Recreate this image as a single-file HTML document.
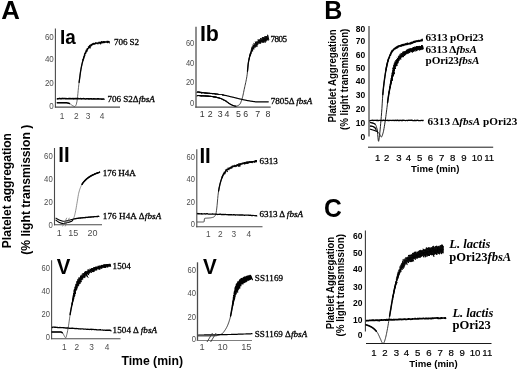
<!DOCTYPE html>
<html><head><meta charset="utf-8"><title>Figure</title>
<style>html,body{margin:0;padding:0;background:#fff;}body{width:520px;height:372px;overflow:hidden;}svg{will-change:transform;filter:grayscale(1);}svg text{font-kerning:normal;}</style></head>
<body>
<svg width="520" height="372" viewBox="0 0 520 372" style="display:block">
<rect width="520" height="372" fill="#fff"/>
<text x="1.3" y="19.4" font-family='"Liberation Sans", sans-serif' font-size="25.8" font-weight="bold" font-style="normal" fill="#000" text-anchor="start">A</text>
<text x="324.3" y="19.4" font-family='"Liberation Sans", sans-serif' font-size="25" font-weight="bold" font-style="normal" fill="#000" text-anchor="start">B</text>
<text transform="translate(324.0 216.9) scale(0.94 1)" font-family='"Liberation Sans", sans-serif' font-size="26.2" font-weight="bold">C</text>
<text transform="translate(11.4 248.2) rotate(-90)" font-family='"Liberation Sans", sans-serif' font-size="12.9" font-weight="bold" textLength="115.2" lengthAdjust="spacingAndGlyphs">Platelet aggregation</text>
<text transform="translate(30.3 254.8) rotate(-90)" font-family='"Liberation Sans", sans-serif' font-size="12.9" font-weight="bold" textLength="130" lengthAdjust="spacingAndGlyphs">(% light transmission )</text>
<text x="121.4" y="364.7" font-family='"Liberation Sans", sans-serif' font-size="12" font-weight="bold" font-style="normal" fill="#000" text-anchor="start" textLength="61.6" lengthAdjust="spacingAndGlyphs">Time (min)</text>
<line x1="55.4" y1="28.5" x2="55.4" y2="107.6" stroke="#4a4a4a" stroke-width="1.1"/>
<line x1="54.9" y1="107.1" x2="120" y2="107.1" stroke="#4a4a4a" stroke-width="1.1"/>
<text transform="translate(53.8 40.2) scale(0.88 1)" font-family='"Liberation Sans", sans-serif' font-size="9.1" fill="#4d4d4d" text-anchor="end">60</text>
<text transform="translate(53.8 62) scale(0.88 1)" font-family='"Liberation Sans", sans-serif' font-size="9.1" fill="#4d4d4d" text-anchor="end">40</text>
<text transform="translate(53.8 86.2) scale(0.88 1)" font-family='"Liberation Sans", sans-serif' font-size="9.1" fill="#4d4d4d" text-anchor="end">20</text>
<text transform="translate(53.8 108.5) scale(0.88 1)" font-family='"Liberation Sans", sans-serif' font-size="9.1" fill="#4d4d4d" text-anchor="end">0</text>
<text x="62" y="118.8" font-family='"Liberation Sans", sans-serif' font-size="8.3" font-weight="normal" font-style="normal" fill="#4d4d4d" text-anchor="middle">1</text>
<text x="76.2" y="118.8" font-family='"Liberation Sans", sans-serif' font-size="8.3" font-weight="normal" font-style="normal" fill="#4d4d4d" text-anchor="middle">2</text>
<text x="88" y="118.8" font-family='"Liberation Sans", sans-serif' font-size="8.3" font-weight="normal" font-style="normal" fill="#4d4d4d" text-anchor="middle">3</text>
<text x="102" y="118.8" font-family='"Liberation Sans", sans-serif' font-size="8.3" font-weight="normal" font-style="normal" fill="#4d4d4d" text-anchor="middle">4</text>
<text transform="translate(59.9 43.6) scale(0.93 1)" font-family='"Liberation Sans", sans-serif' font-size="20.3" font-weight="bold">Ia</text>
<path d="M57.3 102.8 L57.6 102.8 L57.9 102.8 L58.2 102.8 L58.5 102.8 L58.8 102.8 L59.1 102.8 L59.4 102.8 L59.7 102.8 L60 102.8 L60.3 102.8 L60.6 102.8 L60.9 102.8 L61.2 102.8 L61.5 102.8 L61.8 102.8 L62.1 102.8 L62.4 102.8 L62.7 102.8 L63 102.8 L63.3 102.8 L63.6 102.8 L64 102.8 L64.3 102.8 L64.6 102.8 L64.9 102.8 L65.2 102.8 L65.5 102.8 L65.8 102.8 L66.1 102.8 L66.4 102.8 L66.7 102.8 L67 102.9 L67.3 102.9 L67.6 103 L67.9 103 L68.2 103.1 L68.5 103.2 L68.8 103.3 L69.1 103.4 L69.4 103.5 L69.7 103.6 L70 103.7 L70.3 103.9 L70.6 104.2 L70.9 104.4 L71.2 104.7 L71.5 104.9 L71.8 105.1 L72.1 105.4 L72.4 105.6 L72.7 105.7 L73 105.9 L73.3 106 L73.6 106.2 L73.9 106.3 L74.2 106.4 L74.5 106.5 L74.8 106.5 L75.1 106.3 L75.4 106 L75.7 105.6 L76 105 L76.3 104.4 L76.6 103.1 L77 101.2 L77.3 98.8 L77.6 96.4 L77.9 93.6 L78.2 90.4 L78.5 87.3 L78.8 84.7 L79.1 82.4 L79.4 80.2 L79.7 78 L80 75.6 L80.3 73.4 L80.6 71.3 L80.9 69.6 L81.2 67.9 L81.5 66.4 L81.8 65 L82.1 63.7 L82.4 62.5 L82.7 61.3 L83 60.2 L83.3 59.1 L83.6 58.1 L83.9 57.1 L84.2 56.2 L84.5 55.3 L84.8 54.4 L85.1 53.7 L85.4 53 L85.7 52.3 L86 51.7 L86.3 51.2 L86.6 50.6 L86.9 50.1 L87.2 49.6 L87.5 49.1 L87.8 48.7 L88.1 48.3 L88.4 47.9 L88.7 47.6 L89 47.2 L89.3 46.9 L89.6 46.6 L90 46.3 L90.3 46 L90.6 45.8 L90.9 45.5 L91.2 45.3 L91.5 45.1 L91.8 44.8 L92.1 44.7 L92.4 44.5 L92.7 44.4 L93 44.2 L93.3 44.1 L93.6 44 L93.9 43.9 L94.2 43.8 L94.5 43.7 L94.8 43.6 L95.1 43.5 L95.4 43.5 L95.7 43.4 L96 43.3 L96.3 43.3 L96.6 43.2 L96.9 43.1 L97.2 43.1 L97.5 43 L97.8 43 L98.1 42.9 L98.4 42.9 L98.7 42.8 L99 42.8 L99.3 42.7 L99.6 42.7 L99.9 42.6 L100.2 42.6 L100.5 42.5 L100.8 42.5 L101.1 42.5 L101.4 42.4 L101.7 42.4 L102 42.4 L102.3 42.3 L102.6 42.3 L103 42.3 L103.3 42.2 L103.6 42.2 L103.9 42.2 L104.2 42.1 L104.5 42.1 L104.8 42.1 L105.1 42.1 L105.4 42 L105.7 42 L106 42 L106.3 42 L106.6 42 L106.9 41.9 L107.2 41.9 L107.5 41.9 L107.8 41.9 L108.1 41.9 L108.4 41.8 L108.7 41.8 L109 41.8 L109.3 41.8" fill="none" stroke="#444" stroke-width="0.8" stroke-linejoin="round" stroke-linecap="round"/>
<path d="M57.3 102.8 L57.6 102.8 L57.9 102.8 L58.2 102.8 L58.5 102.8 L58.8 102.8 L59.1 102.8 L59.4 102.8 L59.7 102.8 L60 102.8 L60.3 102.8 L60.6 102.8 L60.9 102.8 L61.2 102.8 L61.5 102.8 L61.8 102.8 L62.1 102.8 L62.4 102.8 L62.7 102.8 L63 102.8 L63.3 102.8 L63.6 102.8 L64 102.8 L64.3 102.8 L64.6 102.8 L64.9 102.8 L65.2 102.8 L65.5 102.8 L65.8 102.8 L66.1 102.8 L66.4 102.8 L66.7 102.8 L67 102.9 L67.3 102.9 L67.6 103 L67.9 103 L68.2 103.1 L68.5 103.2 L68.8 103.3 L69.1 103.4 L69.4 103.5" fill="none" stroke="#000" stroke-width="1.5" stroke-linejoin="round" stroke-linecap="round"/>
<path d="M79.1 82.4 L79.4 80.2 L79.7 78 L80 75.6 L80.3 73.4 L80.6 71.3 L80.9 69.6 L81.2 67.9 L81.5 66.4 L81.8 65 L82.1 63.7 L82.4 62.5 L82.7 61.3 L83 60.2 L83.3 59.1 L83.6 58.1 L83.9 57.1" fill="none" stroke="#000" stroke-width="1.3" stroke-linejoin="round" stroke-linecap="round"/>
<path d="M83.1 60.1 L82.7 59.6 L83.5 59.4 L83.2 58.9 L84 58.7 L83.3 58 L84.1 57.8 L83.3 57.2 L84.2 57 L83.8 56.5 L84.7 56.3 L84.1 55.7 L85.2 55.7 L84 54.8 L85 54.8 L84.3 54.1 L85.3 54 L84.5 53.2 L86.1 53.5 L85.3 52.7 L86.3 52.7 L85.3 51.8 L86.4 51.8 L85.6 51 L87.3 51.4 L85.8 50.1 L87.4 50.6 L86.7 49.7 L88 50 L86.7 48.7 L88 49.1 L87.6 48.2 L88.6 48.5 L88.1 47.6 L89.1 48 L88.2 46.5 L90.5 48.2 L89 46.1 L90.4 47 L89.3 45.2 L90.9 46.3 L90.5 45.2 L91.6 46 L90.7 44.2 L92.1 45.4 L91.7 44 L92.7 45 L92.4 43.3 L93.3 44.5 L93.3 43.1 L94.2 44.5 L94.1 43 L95 44.5 L95.1 43.2 L95.7 44 L95.7 42.3 L96.4 43.5 L96.7 42.9 L97.3 43.8 L97.5 42.7 L98.2 44.1 L98.3 42.6 L98.8 43 L99 41.8 L99.7 43.5 L99.9 42.2 L100.6 44.3 L100.7 41.7 L101.3 43.5 L101.4 41.2 L102.1 43.4 L102.4 42 L102.8 42.8 L103.1 41.1 L103.7 43.1 L103.9 41.2 L104.5 43 L104.8 41.3 L105.3 42.5 L105.6 41.7 L106.1 42.3 L106.4 41.4 L106.9 42.5 L107.2 40.9 L107.7 43 L108 41 L108.5 42.4 L108.9 41.2 L109.3 42.8" fill="none" stroke="#000" stroke-width="1.2" stroke-linejoin="bevel" stroke-linecap="round"/>
<path d="M57.3 99 L57.8 98.4 L58.3 99 L58.8 98.4 L59.3 98.7 L59.8 98.2 L60.3 99 L60.9 98.4 L61.4 99 L61.9 98.3 L62.4 98.7 L62.9 98.4 L63.4 98.9 L63.9 98.2 L64.4 98.8 L64.9 98.2 L65.4 99 L65.9 98.4 L66.4 98.9 L66.9 98.5 L67.5 98.9 L68 98.6 L68.5 98.9 L69 98.3 L69.5 98.9 L70 98.3 L70.5 98.9 L71 98.5 L71.5 98.8 L72 98.6 L72.5 99 L73 98.2 L73.5 99.1 L74.1 98.5 L74.6 98.9 L75.1 98.2 L75.6 98.9 L76.1 98.5 L76.6 98.8 L77.1 98.5 L77.6 98.9 L78.1 98.3 L78.6 98.9 L79.1 98.3 L79.6 99.1 L80.1 98.4 L80.7 98.9 L81.2 98.6 L81.7 99.2 L82.2 98.4 L82.7 99.1 L83.2 98.3 L83.7 98.9 L84.2 98.5 L84.7 99 L85.2 98.7 L85.7 99.4 L86.2 98.7 L86.7 98.9 L87.3 98.5 L87.8 99 L88.3 98.7 L88.8 99.1 L89.3 98.6 L89.8 99.3 L90.3 98.4 L90.8 99.2 L91.3 98.4 L91.8 99.3 L92.3 98.7 L92.8 99.2 L93.3 98.6 L93.8 99 L94.4 98.8 L94.9 99.2 L95.4 98.5 L95.9 99.4 L96.4 98.6 L96.9 99.1 L97.4 98.5 L97.9 99.3 L98.4 98.7 L98.9 99.1 L99.4 98.9 L99.9 99.1 L100.5 98.9 L101 99.2 L101.5 98.8 L102 99.5 L102.5 98.9 L103 99.2 L103.5 98.8 L104 99.3" fill="none" stroke="#000" stroke-width="1.5" stroke-linejoin="bevel" stroke-linecap="round"/>
<text x="114" y="44.6" font-family='"Liberation Serif", serif' font-size="9.1" font-weight="normal" font-style="normal" fill="#000" text-anchor="start" stroke="#000" stroke-width="0.3" textLength="25.1" lengthAdjust="spacing">706 S2</text>
<text x="107.5" y="102" font-family='"Liberation Serif", serif' font-size="9.1" font-weight="normal" font-style="normal" fill="#000" text-anchor="start" stroke="#000" stroke-width="0.3" textLength="47.3" lengthAdjust="spacing">706 S2&#916;<tspan font-style="italic">fbsA</tspan></text>
<line x1="196" y1="26.7" x2="196" y2="107.6" stroke="#6a6a6a" stroke-width="1.5"/>
<line x1="195.2" y1="107.1" x2="270.7" y2="107.1" stroke="#505050" stroke-width="1.2"/>
<text transform="translate(194.2 46) scale(0.88 1)" font-family='"Liberation Sans", sans-serif' font-size="8.5" fill="#4d4d4d" text-anchor="end">60</text>
<text transform="translate(194.2 65.7) scale(0.88 1)" font-family='"Liberation Sans", sans-serif' font-size="8.5" fill="#4d4d4d" text-anchor="end">40</text>
<text transform="translate(194.2 85.3) scale(0.88 1)" font-family='"Liberation Sans", sans-serif' font-size="8.5" fill="#4d4d4d" text-anchor="end">20</text>
<text transform="translate(194.2 105.6) scale(0.88 1)" font-family='"Liberation Sans", sans-serif' font-size="8.5" fill="#4d4d4d" text-anchor="end">0</text>
<text x="202.2" y="116.9" font-family='"Liberation Sans", sans-serif' font-size="8.8" font-weight="normal" font-style="normal" fill="#333" text-anchor="middle">1</text>
<text x="210.2" y="116.9" font-family='"Liberation Sans", sans-serif' font-size="8.8" font-weight="normal" font-style="normal" fill="#333" text-anchor="middle">2</text>
<text x="220.3" y="116.9" font-family='"Liberation Sans", sans-serif' font-size="8.8" font-weight="normal" font-style="normal" fill="#333" text-anchor="middle">3</text>
<text x="227" y="116.9" font-family='"Liberation Sans", sans-serif' font-size="8.8" font-weight="normal" font-style="normal" fill="#333" text-anchor="middle">4</text>
<text x="238.5" y="116.9" font-family='"Liberation Sans", sans-serif' font-size="8.8" font-weight="normal" font-style="normal" fill="#333" text-anchor="middle">5</text>
<text x="245.6" y="116.9" font-family='"Liberation Sans", sans-serif' font-size="8.8" font-weight="normal" font-style="normal" fill="#333" text-anchor="middle">6</text>
<text x="257.6" y="116.9" font-family='"Liberation Sans", sans-serif' font-size="8.8" font-weight="normal" font-style="normal" fill="#333" text-anchor="middle">7</text>
<text x="268" y="116.9" font-family='"Liberation Sans", sans-serif' font-size="8.8" font-weight="normal" font-style="normal" fill="#333" text-anchor="middle">8</text>
<text transform="translate(199.9 40.8) scale(0.96 1)" font-family='"Liberation Sans", sans-serif' font-size="22.3" font-weight="bold">Ib</text>
<path d="M197.2 95.6 L197.5 95.6 L197.8 95.6 L198.1 95.6 L198.4 95.6 L198.7 95.7 L199 95.7 L199.3 95.7 L199.6 95.7 L199.9 95.7 L200.2 95.7 L200.5 95.7 L200.8 95.8 L201.1 95.8 L201.4 95.8 L201.7 95.8 L202 95.8 L202.3 95.8 L202.6 95.9 L202.9 95.9 L203.2 95.9 L203.5 95.9 L203.8 95.9 L204.1 95.9 L204.4 96 L204.7 96 L205 96 L205.3 96 L205.6 96 L205.9 96.1 L206.2 96.1 L206.5 96.1 L206.8 96.1 L207.1 96.1 L207.4 96.2 L207.7 96.2 L208 96.2 L208.3 96.2 L208.6 96.3 L208.9 96.3 L209.3 96.3 L209.6 96.3 L209.9 96.4 L210.2 96.4 L210.5 96.4 L210.8 96.4 L211.1 96.5 L211.4 96.5 L211.7 96.5 L212 96.6 L212.3 96.6 L212.6 96.6 L212.9 96.7 L213.2 96.7 L213.5 96.8 L213.8 96.8 L214.1 96.9 L214.4 96.9 L214.7 97 L215 97 L215.3 97.1 L215.6 97.1 L215.9 97.2 L216.2 97.3 L216.5 97.3 L216.8 97.4 L217.1 97.5 L217.4 97.6 L217.7 97.6 L218 97.7 L218.3 97.8 L218.6 97.9 L218.9 98 L219.2 98.1 L219.5 98.1 L219.8 98.2 L220.1 98.3 L220.4 98.4 L220.7 98.5 L221 98.7 L221.3 98.8 L221.6 98.9 L221.9 99 L222.2 99.2 L222.5 99.3 L222.8 99.5 L223.1 99.6 L223.4 99.8 L223.7 99.9 L224 100.1 L224.3 100.2 L224.6 100.4 L224.9 100.6 L225.2 100.7 L225.5 100.9 L225.8 101.1 L226.1 101.3 L226.4 101.5 L226.7 101.7 L227 101.9 L227.3 102.1 L227.6 102.3 L227.9 102.6 L228.2 102.8 L228.5 103 L228.8 103.2 L229.1 103.4 L229.4 103.6 L229.7 103.8 L230 104 L230.3 104.2 L230.6 104.4 L230.9 104.5 L231.2 104.7 L231.5 104.8 L231.8 104.9 L232.1 105.1 L232.4 105.2 L232.7 105.4 L233.1 105.5 L233.4 105.6 L233.7 105.7 L234 105.8 L234.3 105.9 L234.6 106 L234.9 106.1 L235.2 106.2 L235.5 106.2 L235.8 106.2 L236.1 106.2 L236.4 106.2 L236.7 106.1 L237 106 L237.3 105.9 L237.6 105.8 L237.9 105.6 L238.2 105.5 L238.5 105.3 L238.8 105.1 L239.1 104.9 L239.4 104.7 L239.7 104.4 L240 104 L240.3 103.5 L240.6 102.9 L240.9 102.2 L241.2 101.4 L241.5 100.5 L241.8 99.6 L242.1 98.7 L242.4 97.7 L242.7 96.5 L243 95.2 L243.3 93.8 L243.6 92.4 L243.9 90.9 L244.2 89.4 L244.5 88 L244.8 86.6 L245.1 85.3 L245.4 84 L245.7 82.6 L246 81.2 L246.3 79.7 L246.6 78.1 L246.9 76.3 L247.2 74.2 L247.5 71.3 L247.8 68 L248.1 64.8 L248.4 62.5 L248.7 60.8 L249 59.4 L249.3 58 L249.6 56.9 L249.9 55.8 L250.2 54.8 L250.5 53.9 L250.8 53.1 L251.1 52.3 L251.4 51.5 L251.7 50.7 L252 50 L252.3 49.4 L252.6 48.7 L252.9 48.2 L253.2 47.6 L253.5 47.2 L253.8 46.7 L254.1 46.4 L254.4 46 L254.7 45.7 L255 45.3 L255.3 45 L255.6 44.7 L255.9 44.5 L256.2 44.2 L256.5 44 L256.9 43.7 L257.2 43.5 L257.5 43.3 L257.8 43 L258.1 42.8 L258.4 42.6 L258.7 42.4 L259 42.2 L259.3 42 L259.6 41.7 L259.9 41.5 L260.2 41.4 L260.5 41.2 L260.8 41 L261.1 40.8 L261.4 40.6 L261.7 40.5 L262 40.3 L262.3 40.2 L262.6 40 L262.9 39.9 L263.2 39.8 L263.5 39.7 L263.8 39.6 L264.1 39.5 L264.4 39.4 L264.7 39.3 L265 39.2 L265.3 39.2 L265.6 39.1 L265.9 39 L266.2 38.9 L266.5 38.9 L266.8 38.8 L267.1 38.7 L267.4 38.7 L267.7 38.6 L268 38.6 L268.3 38.5 L268.6 38.5" fill="none" stroke="#222" stroke-width="0.9" stroke-linejoin="round" stroke-linecap="round"/>
<path d="M197.2 96.1 L197.5 95.1 L197.8 96 L198.1 95.1 L198.4 96 L198.7 95.1 L199 96 L199.4 95.1 L199.6 96.1 L200 95.2 L200.2 96.2 L200.6 95.1 L200.8 96.3 L201.2 95.2 L201.4 96.4 L201.8 95.3 L202.1 96.4 L202.4 95.4 L202.7 96.2 L203 95.3 L203.3 96.4 L203.6 95.4 L203.9 96.2 L204.3 95.5 L204.5 96.3 L204.9 95.4 L205.1 96.5 L205.5 95.5 L205.7 96.4 L206.1 95.6 L206.3 96.5 L206.7 95.5 L206.9 96.7 L207.3 95.6 L207.6 96.6 L207.9 95.6 L208.2 96.8 L208.5 95.7 L208.8 96.8 L209.2 95.8 L209.4 96.7 L209.8 95.8 L210 96.9 L210.4 95.9 L210.6 96.9 L211 95.9 L211.2 96.8 L211.6 96 L211.8 97 L212.2 96.1 L212.4 97 L212.8 96.1 L213 97.2 L213.4 96.2 L213.6 97.3 L214 96.4 L214.2 97.4 L214.7 96.4 L214.8 97.5 L215.3 96.5 L215.4 97.6 L215.9 96.7 L216 97.5 L216.5 96.8 L216.6 97.7 L217.1 97 L217.2 97.9 L217.7 97.1 L217.7 98.1 L218.3 97.3 L218.3 98.3 L218.9 97.5 L219 98.3 L219.5 97.7 L219.5 98.5 L220 97.9 L220.1 98.8 L220.6 98.1 L220.6 98.9 L221.2 98.3 L221.2 99.1 L221.8 98.6 L221.8 99.2 L222.3 98.9 L222.3 99.6 L222.9 99.1 L222.9 99.8 L223.5 99.4 L223.4 100.2 L224 99.7 L223.9 100.4 L224.5 100 L224.5 100.6 L225.1 100.3 L225.1 100.9 L225.6 100.6 L225.6 101.2 L226.1 101" fill="none" stroke="#000" stroke-width="1" stroke-linejoin="bevel" stroke-linecap="round"/>
<path d="M226.1 101.3 L226.4 101.5 L226.7 101.7 L227 101.9 L227.3 102.1 L227.6 102.3 L227.9 102.6 L228.2 102.8 L228.5 103 L228.8 103.2 L229.1 103.4 L229.4 103.6 L229.7 103.8 L230 104 L230.3 104.2 L230.6 104.4 L230.9 104.5 L231.2 104.7 L231.5 104.8 L231.8 104.9 L232.1 105.1 L232.4 105.2 L232.7 105.4 L233.1 105.5 L233.4 105.6 L233.7 105.7 L234 105.8 L234.3 105.9 L234.6 106 L234.9 106.1 L235.2 106.2 L235.5 106.2 L235.8 106.2" fill="none" stroke="#000" stroke-width="1.2" stroke-linejoin="round" stroke-linecap="round"/>
<path d="M247.5 71.3 L247.8 68 L248.1 64.8 L248.4 62.5 L248.7 60.8 L249 59.4 L249.3 58 L249.6 56.9 L249.9 55.8 L250.2 54.8 L250.5 53.9 L250.8 53.1" fill="none" stroke="#000" stroke-width="1.3" stroke-linejoin="round" stroke-linecap="round"/>
<path d="M249.1 59.3 L248.9 58.8 L249.5 58.5 L249 57.9 L249.8 57.7 L249.1 57.1 L249.9 56.8 L249.3 56.2 L250.1 56 L249.6 55.4 L250.6 55.3 L249.7 54.6 L250.7 54.4 L249.8 53.7 L251.3 53.7 L250.2 52.9 L251.3 52.8 L250.3 52 L251.8 52.1 L250.8 51.3 L252.3 51.4 L250.8 50.3 L253.1 50.8 L251.2 49.5 L252.8 49.8 L251.2 48.5 L253.5 49.2 L251.5 47.7 L254.3 48.8 L251.9 46.8 L254.3 47.8 L252.6 46.1 L255.2 47.5 L252.6 44.9 L255.8 47 L253.7 44.6 L256.5 46.6 L253.7 43.3 L257.3 46.4 L255 43.2 L257.4 45.3 L255.1 41.9 L258 44.9 L256 41.6 L258.4 44 L256.9 41.3 L258.9 43.3 L257.7 40.8 L260.4 44 L258 39.7 L260.8 43.1 L258.9 39.4 L261.3 42.4 L259.9 39.2 L262.3 42.5 L260.4 38.2 L263.1 42.6 L261.6 38.3 L263.9 42.6 L262.3 37.2 L264.2 41.6 L263.3 37.2 L265.3 42.5 L264.3 37.3 L265.9 41.6 L264.9 36.1 L266.5 40.7 L265.9 36 L267.2 40.1 L266.8 36.1 L268.1 40.5 L267.6 34.8 L268.8 39.7" fill="none" stroke="#000" stroke-width="0.9" stroke-linejoin="bevel" stroke-linecap="round"/>
<path d="M197.1 92.5 L197.6 91.5 L197.7 92.6 L198.2 91.5 L198.4 92.5 L198.8 91.6 L199 92.7 L199.4 91.7 L199.6 92.9 L200 91.8 L200.2 93.1 L200.6 91.9 L200.8 92.9 L201.2 91.9 L201.4 93.2 L201.8 92 L201.9 93.6 L202.4 92.1 L202.6 93 L203 92.2 L203.2 93.2 L203.6 92.3 L203.8 93.2 L204.3 92.3 L204.4 93.5 L204.9 92.4 L205.1 93.4 L205.5 92.5 L205.7 93.7 L206.1 92.5 L206.3 93.6 L206.7 92.6 L206.9 93.8 L207.3 92.7 L207.5 93.8 L207.9 92.7 L208.1 93.8 L208.5 92.8 L208.7 93.6 L209.1 92.8 L209.3 93.8 L209.7 92.8 L209.9 94 L210.3 93 L210.6 94 L211 92.9 L211.2 93.9 L211.6 93.1 L211.8 94 L212.2 93.1 L212.4 94.2 L212.8 93.1 L213 94.1 L213.4 93.2 L213.6 94.1 L214 93.3 L214.2 94.3 L214.6 93.3 L214.8 94.2 L215.2 93.4 L215.4 94.5 L215.8 93.5 L216 94.6 L216.4 93.6 L216.7 94.4 L217.1 93.7 L217.2 94.6 L217.7 93.7 L217.9 94.6 L218.3 93.9 L218.5 94.7 L218.9 94 L219.1 94.7 L219.5 94.1 L219.7 94.7 L220.1 94.2 L220.3 94.7 L220.7 94.3 L220.9 94.8 L221.3 94.4 L221.5 95 L221.9 94.5 L222.1 95 L222.5 94.7 L222.7 95.3 L223.1 94.7 L223.3 95.2 L223.7 94.9 L223.9 95.2" fill="none" stroke="#000" stroke-width="1" stroke-linejoin="bevel" stroke-linecap="round"/>
<path d="M222.2 94.8 L222.5 94.9 L222.8 94.9 L223.1 95 L223.4 95 L223.7 95.1 L224 95.2 L224.3 95.2 L224.6 95.3 L224.9 95.3 L225.2 95.4 L225.5 95.5 L225.8 95.5 L226.1 95.6 L226.4 95.7 L226.7 95.7 L227 95.8 L227.3 95.9 L227.6 96 L227.9 96 L228.2 96.1 L228.5 96.2 L228.8 96.2 L229.1 96.3 L229.4 96.4 L229.7 96.5 L230 96.5 L230.3 96.6 L230.6 96.7 L230.9 96.8 L231.2 96.8 L231.5 96.9 L231.8 97 L232.1 97 L232.4 97.1 L232.8 97.2 L233.1 97.2 L233.4 97.3 L233.7 97.4 L234 97.5 L234.3 97.5 L234.6 97.6 L234.9 97.7 L235.2 97.8 L235.5 97.8 L235.8 97.9 L236.1 98 L236.4 98.1 L236.7 98.2 L237 98.2 L237.3 98.3 L237.6 98.4 L237.9 98.5 L238.2 98.5 L238.5 98.6 L238.8 98.7 L239.1 98.8 L239.4 98.8 L239.7 98.9 L240 99 L240.3 99 L240.6 99.1 L240.9 99.2 L241.2 99.2 L241.5 99.3 L241.8 99.4 L242.1 99.4 L242.4 99.5 L242.7 99.6 L243 99.6 L243.3 99.7 L243.6 99.8 L243.9 99.8 L244.2 99.9 L244.5 100 L244.8 100 L245.1 100.1 L245.4 100.2 L245.7 100.2 L246 100.3 L246.3 100.4 L246.6 100.4 L246.9 100.5 L247.2 100.5 L247.5 100.6 L247.8 100.6 L248.1 100.7 L248.4 100.7 L248.7 100.8 L249 100.8 L249.3 100.9 L249.6 100.9 L249.9 101 L250.2 101 L250.5 101.1 L250.8 101.1 L251.1 101.2 L251.4 101.2 L251.7 101.3 L252 101.3 L252.3 101.4 L252.6 101.4 L252.9 101.4 L253.2 101.5 L253.5 101.5 L253.8 101.6 L254.1 101.6 L254.4 101.7 L254.7 101.7 L255 101.7 L255.3 101.8 L255.6 101.8 L255.9 101.8 L256.2 101.8 L256.6 101.9 L256.9 101.9 L257.2 101.9 L257.5 101.9 L257.8 101.9 L258.1 101.9 L258.4 101.9 L258.7 101.9 L259 101.9 L259.3 101.9 L259.6 101.9 L259.9 101.9 L260.2 101.9 L260.5 101.9 L260.8 101.9 L261.1 101.9 L261.4 101.9 L261.7 101.9 L262 101.9 L262.3 101.9 L262.6 101.9 L262.9 101.9 L263.2 101.9 L263.5 101.9 L263.8 101.9 L264.1 101.9 L264.4 101.9 L264.7 101.9 L265 101.9 L265.3 101.9 L265.6 101.9 L265.9 101.9 L266.2 101.8 L266.5 101.8 L266.8 101.8 L267.1 101.8 L267.4 101.8 L267.7 101.8 L268 101.8 L268.3 101.8" fill="none" stroke="#000" stroke-width="1.2" stroke-linejoin="round" stroke-linecap="round"/>
<text x="270.5" y="41.8" font-family='"Liberation Serif", serif' font-size="9.1" font-weight="normal" font-style="normal" fill="#000" text-anchor="start" stroke="#000" stroke-width="0.3" textLength="16.6" lengthAdjust="spacing">7805</text>
<text x="270.7" y="103.9" font-family='"Liberation Serif", serif' font-size="9.1" font-weight="normal" font-style="normal" fill="#000" text-anchor="start" stroke="#000" stroke-width="0.3" textLength="41.6" lengthAdjust="spacing">7805&#916; <tspan font-style="italic">fbsA</tspan></text>
<line x1="54.5" y1="148" x2="54.5" y2="225.3" stroke="#4a4a4a" stroke-width="1.1"/>
<line x1="54" y1="224.8" x2="102" y2="224.8" stroke="#4a4a4a" stroke-width="1.1"/>
<text transform="translate(52.7 159.4) scale(0.88 1)" font-family='"Liberation Sans", sans-serif' font-size="8.8" fill="#4d4d4d" text-anchor="end">60</text>
<text transform="translate(52.7 182.1) scale(0.88 1)" font-family='"Liberation Sans", sans-serif' font-size="8.8" fill="#4d4d4d" text-anchor="end">40</text>
<text transform="translate(52.7 205.3) scale(0.88 1)" font-family='"Liberation Sans", sans-serif' font-size="8.8" fill="#4d4d4d" text-anchor="end">20</text>
<text transform="translate(52.7 227.7) scale(0.88 1)" font-family='"Liberation Sans", sans-serif' font-size="8.8" fill="#4d4d4d" text-anchor="end">0</text>
<text x="59.2" y="236" font-family='"Liberation Sans", sans-serif' font-size="9.0" font-weight="normal" font-style="normal" fill="#4d4d4d" text-anchor="middle">1</text>
<text x="73.3" y="236" font-family='"Liberation Sans", sans-serif' font-size="9.0" font-weight="normal" font-style="normal" fill="#4d4d4d" text-anchor="middle">15</text>
<text x="92.4" y="236" font-family='"Liberation Sans", sans-serif' font-size="9.0" font-weight="normal" font-style="normal" fill="#4d4d4d" text-anchor="middle">20</text>
<text transform="translate(58.3 162.2) scale(0.96 1)" font-family='"Liberation Sans", sans-serif' font-size="21.2" font-weight="bold">II</text>
<path d="M56 220.2 L56.3 220.4 L56.6 220.7 L56.9 220.9 L57.2 221.1 L57.5 221.4 L57.8 221.6 L58.1 221.8 L58.4 221.9 L58.7 222.1 L59 222.3 L59.3 222.4 L59.6 222.5 L59.9 222.7 L60.2 222.8 L60.5 222.9 L60.8 223 L61.1 223.1 L61.5 223.2 L61.8 223.3 L62.1 223.4 L62.4 223.4 L62.7 223.5 L63 223.5 L63.3 223.5 L63.6 223.5 L63.9 223.5 L64.2 223.4 L64.5 223.4 L64.8 223.3 L65.1 223.2 L65.4 223.1 L65.7 223 L66 223 L66.3 222.9 L66.6 222.8 L66.9 222.7 L67.2 222.6 L67.5 222.5 L67.8 222.5 L68.1 222.4 L68.4 222.3 L68.7 222.2 L69 222.2 L69.3 222.1 L69.6 222 L69.9 221.9 L70.2 221.8 L70.5 221.7 L70.8 221.6 L71.1 221.5 L71.4 221.4 L71.7 221.2 L72 221 L72.3 220.7 L72.7 220.2 L73 219.7 L73.3 219 L73.6 218.3 L73.9 217.6 L74.2 216.8 L74.5 215.8 L74.8 214.6 L75.1 213.4 L75.4 212.1 L75.7 210.6 L76 209 L76.3 207.2 L76.6 205.4 L76.9 203.6 L77.2 201.9 L77.5 200.1 L77.8 198.2 L78.1 196.4 L78.4 194.7 L78.7 193.2 L79 192 L79.3 190.9 L79.6 189.9 L79.9 189 L80.2 188.2 L80.5 187.4 L80.8 186.7 L81.1 186 L81.4 185.4 L81.7 184.9 L82 184.4 L82.3 183.9 L82.6 183.4 L82.9 183 L83.2 182.5 L83.6 182.2 L83.9 181.8 L84.2 181.4 L84.5 181.1 L84.8 180.7 L85.1 180.4 L85.4 180.1 L85.7 179.8 L86 179.6 L86.3 179.3 L86.6 179 L86.9 178.8 L87.2 178.5 L87.5 178.3 L87.8 178.1 L88.1 177.8 L88.4 177.6 L88.7 177.4 L89 177.2 L89.3 177 L89.6 176.8 L89.9 176.6 L90.2 176.4 L90.5 176.2 L90.8 176.1 L91.1 175.9 L91.4 175.7 L91.7 175.5 L92 175.4 L92.3 175.2 L92.6 175.1 L92.9 174.9 L93.2 174.8 L93.5 174.6 L93.8 174.5 L94.2 174.3 L94.5 174.2 L94.8 174.1 L95.1 173.9 L95.4 173.8 L95.7 173.7 L96 173.6 L96.3 173.4 L96.6 173.3 L96.9 173.2 L97.2 173.1 L97.5 173 L97.8 172.9 L98.1 172.8 L98.4 172.7 L98.7 172.6 L99 172.5 L99.3 172.4 L99.6 172.3" fill="none" stroke="#777" stroke-width="0.8" stroke-linejoin="round" stroke-linecap="round"/>
<path d="M56 220.2 L56.3 220.4 L56.6 220.7 L56.9 220.9 L57.2 221.1 L57.5 221.4 L57.8 221.6 L58.1 221.8 L58.4 221.9 L58.7 222.1 L59 222.3 L59.3 222.4 L59.6 222.5 L59.9 222.7 L60.2 222.8 L60.5 222.9 L60.8 223 L61.1 223.1 L61.5 223.2 L61.8 223.3 L62.1 223.4 L62.4 223.4 L62.7 223.5 L63 223.5 L63.3 223.5 L63.6 223.5 L63.9 223.5 L64.2 223.4 L64.5 223.4 L64.8 223.3 L65.1 223.2 L65.4 223.1 L65.7 223 L66 223 L66.3 222.9 L66.6 222.8 L66.9 222.7 L67.2 222.6 L67.5 222.5 L67.8 222.5 L68.1 222.4 L68.4 222.3 L68.7 222.2 L69 222.2 L69.3 222.1 L69.6 222 L69.9 221.9 L70.2 221.8 L70.5 221.7 L70.8 221.6 L71.1 221.5 L71.4 221.4 L71.7 221.2 L72 221 L72.3 220.7 L72.7 220.2 L73 219.7" fill="none" stroke="#000" stroke-width="1.1" stroke-linejoin="round" stroke-linecap="round"/>
<path d="M82 184.4 L82.3 183.9 L82.6 183.4 L82.9 183 L83.2 182.5 L83.6 182.2 L83.9 181.8 L84.2 181.4 L84.5 181.1 L84.8 180.7 L85.1 180.4 L85.4 180.1 L85.7 179.8 L86 179.6 L86.3 179.3 L86.6 179 L86.9 178.8 L87.2 178.5 L87.5 178.3 L87.8 178.1 L88.1 177.8 L88.4 177.6 L88.7 177.4 L89 177.2 L89.3 177 L89.6 176.8 L89.9 176.6 L90.2 176.4 L90.5 176.2 L90.8 176.1 L91.1 175.9 L91.4 175.7 L91.7 175.5 L92 175.4 L92.3 175.2 L92.6 175.1 L92.9 174.9 L93.2 174.8 L93.5 174.6 L93.8 174.5 L94.2 174.3 L94.5 174.2 L94.8 174.1 L95.1 173.9 L95.4 173.8 L95.7 173.7 L96 173.6 L96.3 173.4 L96.6 173.3 L96.9 173.2 L97.2 173.1 L97.5 173 L97.8 172.9 L98.1 172.8 L98.4 172.7 L98.7 172.6 L99 172.5 L99.3 172.4 L99.6 172.3" fill="none" stroke="#000" stroke-width="1.4" stroke-linejoin="round" stroke-linecap="round"/>
<path d="M82.2 184.5 L81.9 184 L82.5 184 L82.2 183.5 L82.9 183.5 L82.6 183 L83.2 183 L83 182.4 L83.6 182.5 L83.3 181.9 L83.9 182 L83.7 181.4 L84.3 181.5 L84.1 181 L84.8 181.2 L84.6 180.5 L85.2 180.7 L85 180.1 L85.6 180.3 L85.4 179.6 L86.1 179.9 L85.9 179.2 L86.5 179.4 L86.4 178.8 L86.9 179 L86.8 178.4 L87.4 178.7 L87.3 178 L87.9 178.2 L87.8 177.6 L88.4 177.9 L88.3 177.2 L88.9 177.6 L88.8 176.9 L89.5 177.3 L89.3 176.5 L89.9 176.8 L89.9 176.2 L90.5 176.6 L90.4 175.9 L91 176.3 L90.9 175.6 L91.6 176 L91.5 175.2 L92.1 175.7 L92 175 L92.6 175.4 L92.6 174.7 L93.2 175.1 L93.1 174.4 L93.7 174.9 L93.7 174.1 L94.2 174.6 L94.2 173.9 L94.8 174.4 L94.8 173.6 L95.4 174.2 L95.4 173.3 L95.9 173.9 L96 173.1 L96.5 173.7 L96.5 172.9 L97.1 173.6 L97.1 172.6 L97.7 173.4 L97.7 172.4 L98.2 173.1 L98.3 172.2 L98.9 173 L98.9 172.1 L99.4 172.7 L99.5 171.8" fill="none" stroke="#000" stroke-width="0.9" stroke-linejoin="bevel" stroke-linecap="round"/>
<path d="M56 218.2 L56.3 218.4 L56.6 218.6 L56.9 218.8 L57.2 219 L57.5 219.1 L57.8 219.3 L58.1 219.5 L58.4 219.6 L58.7 219.8 L59 219.9 L59.3 220 L59.6 220.1 L59.9 220.3 L60.2 220.4 L60.6 220.5 L60.9 220.6 L61.2 220.7 L61.5 220.8 L61.8 220.9 L62.1 221 L62.4 221.1 L62.7 221.2 L63 221.2 L63.3 221.3 L63.6 221.3 L63.9 221.3 L64.2 221.3 L64.5 221.3 L64.8 221.2 L65.1 221.2 L65.4 221.1 L65.7 221.1 L66 221 L66.3 220.9 L66.6 220.9 L66.9 220.8 L67.2 220.7 L67.5 220.6 L67.8 220.5 L68.1 220.5 L68.4 220.4 L68.7 220.3 L69.1 220.2 L69.4 220.2 L69.7 220.1 L70 220 L70.3 219.9 L70.6 219.8 L70.9 219.8 L71.2 219.7 L71.5 219.6 L71.8 219.5 L72.1 219.4 L72.4 219.3 L72.7 219.2 L73 219.2 L73.3 219.1 L73.6 219 L73.9 218.9 L74.2 218.9 L74.5 218.8 L74.8 218.8 L75.1 218.7 L75.4 218.7 L75.7 218.6" fill="none" stroke="#000" stroke-width="1.1" stroke-linejoin="round" stroke-linecap="round"/>
<path d="M75.1 218.7 L75.4 218.7 L75.7 218.6 L76 218.6 L76.3 218.5 L76.6 218.5 L76.9 218.4 L77.2 218.4 L77.6 218.4 L77.9 218.3 L78.2 218.3 L78.5 218.2 L78.8 218.2 L79.1 218.2 L79.4 218.1 L79.7 218.1 L80 218.1 L80.3 218 L80.6 218 L80.9 218 L81.2 217.9 L81.5 217.9 L81.8 217.9 L82.1 217.8 L82.4 217.8 L82.7 217.8 L83 217.7 L83.3 217.7 L83.6 217.7 L83.9 217.6 L84.2 217.6 L84.5 217.6 L84.8 217.6 L85.1 217.5 L85.4 217.5 L85.7 217.5 L86.1 217.4 L86.4 217.4 L86.7 217.4 L87 217.3 L87.3 217.3 L87.6 217.3 L87.9 217.3 L88.2 217.2 L88.5 217.2 L88.8 217.2 L89.1 217.2 L89.4 217.1 L89.7 217.1 L90 217.1 L90.3 217 L90.6 217 L90.9 217 L91.2 217 L91.5 216.9 L91.8 216.9 L92.1 216.9 L92.4 216.9 L92.7 216.8 L93 216.8 L93.3 216.8 L93.6 216.8 L93.9 216.7 L94.2 216.7 L94.6 216.7 L94.9 216.7 L95.2 216.6 L95.5 216.6 L95.8 216.6 L96.1 216.6 L96.4 216.6 L96.7 216.5 L97 216.5 L97.3 216.5 L97.6 216.5 L97.9 216.5 L98.2 216.4 L98.5 216.4 L98.8 216.4" fill="none" stroke="#000" stroke-width="1.3" stroke-linejoin="round" stroke-linecap="round"/>
<path d="M75.1 219 L75.5 218.5 L76.1 218.6 L76.5 218.2 L77.2 218.9 L77.6 218.1 L78.1 218.3 L78.6 218.2 L79.2 218.2 L79.6 217.9 L80.2 218.2 L80.7 217.8 L81.3 218.2 L81.7 217.6 L82.3 218 L82.7 217.5 L83.3 217.9 L83.8 217.6 L84.3 217.8 L84.8 217.4 L85.4 217.6 L85.9 217.3 L86.4 217.5 L86.9 217.2 L87.4 217.6 L87.9 216.9 L88.5 217.5 L88.9 216.8 L89.5 217.2 L90 216.8 L90.5 217.2 L91 216.9 L91.6 217.2 L92.1 216.7 L92.6 217.1 L93.1 216.6 L93.6 216.9 L94.1 216.5 L94.7 216.8 L95.2 216.3 L95.7 216.9 L96.2 216.3 L96.7 216.8 L97.2 216.3 L97.8 216.6 L98.3 216.2 L98.8 216.5" fill="none" stroke="#000" stroke-width="0.8" stroke-linejoin="bevel" stroke-linecap="round"/>
<line x1="62.6" y1="226.4" x2="66.8" y2="217.8" stroke="#777" stroke-width="0.8"/>
<line x1="65.2" y1="226.4" x2="69.4" y2="217.8" stroke="#777" stroke-width="0.8"/>
<text x="102.8" y="176" font-family='"Liberation Serif", serif' font-size="9.1" font-weight="normal" font-style="normal" fill="#000" text-anchor="start" stroke="#000" stroke-width="0.3" textLength="33" lengthAdjust="spacing">176 H4A</text>
<text x="102.8" y="219.3" font-family='"Liberation Serif", serif' font-size="9.1" font-weight="normal" font-style="normal" fill="#000" text-anchor="start" stroke="#000" stroke-width="0.3" textLength="58.4" lengthAdjust="spacing">176 H4A &#916;<tspan font-style="italic">fbsA</tspan></text>
<line x1="196.8" y1="149.2" x2="196.8" y2="227.3" stroke="#4a4a4a" stroke-width="1.1"/>
<line x1="196.2" y1="226.8" x2="262.5" y2="226.8" stroke="#4a4a4a" stroke-width="1.1"/>
<text transform="translate(194.9 160.2) scale(0.88 1)" font-family='"Liberation Sans", sans-serif' font-size="8.6" fill="#4d4d4d" text-anchor="end">60</text>
<text transform="translate(194.9 182.2) scale(0.88 1)" font-family='"Liberation Sans", sans-serif' font-size="8.6" fill="#4d4d4d" text-anchor="end">40</text>
<text transform="translate(194.9 204.8) scale(0.88 1)" font-family='"Liberation Sans", sans-serif' font-size="8.6" fill="#4d4d4d" text-anchor="end">20</text>
<text transform="translate(194.9 227.3) scale(0.88 1)" font-family='"Liberation Sans", sans-serif' font-size="8.6" fill="#4d4d4d" text-anchor="end">0</text>
<text x="208.3" y="237" font-family='"Liberation Sans", sans-serif' font-size="8.3" font-weight="normal" font-style="normal" fill="#4d4d4d" text-anchor="middle">1</text>
<text x="220.4" y="237" font-family='"Liberation Sans", sans-serif' font-size="8.3" font-weight="normal" font-style="normal" fill="#4d4d4d" text-anchor="middle">2</text>
<text x="233.9" y="237" font-family='"Liberation Sans", sans-serif' font-size="8.3" font-weight="normal" font-style="normal" fill="#4d4d4d" text-anchor="middle">3</text>
<text x="248.7" y="237" font-family='"Liberation Sans", sans-serif' font-size="8.3" font-weight="normal" font-style="normal" fill="#4d4d4d" text-anchor="middle">4</text>
<text transform="translate(199.4 162.8) scale(0.94 1)" font-family='"Liberation Sans", sans-serif' font-size="21.7" font-weight="bold">II</text>
<path d="M197.5 222 L197.8 222 L198.1 222 L198.4 222 L198.7 222 L199 222 L199.3 222 L199.6 222 L199.9 222 L200.2 222 L200.5 222 L200.8 222 L201.1 222 L201.4 222 L201.7 222 L202 222 L202.3 222 L202.6 222 L202.9 222 L203.2 222 L203.5 222 L203.8 222 L204.1 221.5 L204.4 219.1 L204.7 218.4 L205 218.3 L205.3 218.3 L205.6 218.2 L205.9 218.2 L206.2 218.2 L206.5 218.2 L206.8 218.1 L207.1 218.1 L207.5 218.1 L207.8 218.1 L208.1 218.1 L208.4 218.1 L208.7 218 L209 218 L209.3 218 L209.6 217.9 L209.9 217.9 L210.2 217.9 L210.5 217.8 L210.8 217.8 L211.1 217.7 L211.4 217.7 L211.7 217.6 L212 217.6 L212.3 217.5 L212.6 217.4 L212.9 217.3 L213.2 217.2 L213.5 217.1 L213.8 217 L214.1 216.8 L214.4 216.6 L214.7 216.3 L215 215.9 L215.3 215.4 L215.6 214.8 L215.9 214.1 L216.2 212.5 L216.5 210.3 L216.8 208 L217.1 205.3 L217.4 202 L217.7 198.6 L218 195.4 L218.3 193 L218.6 191 L218.9 189.3 L219.2 187.7 L219.5 186.3 L219.8 184.9 L220.1 183.7 L220.4 182.6 L220.7 181.5 L221 180.5 L221.3 179.6 L221.6 178.7 L221.9 177.8 L222.2 177 L222.5 176.3 L222.8 175.6 L223.1 175 L223.4 174.5 L223.7 173.9 L224 173.5 L224.3 173 L224.6 172.5 L224.9 172.1 L225.2 171.7 L225.5 171.4 L225.8 171 L226.1 170.7 L226.4 170.4 L226.7 170.2 L227.1 169.9 L227.4 169.7 L227.7 169.5 L228 169.2 L228.3 169 L228.6 168.8 L228.9 168.6 L229.2 168.5 L229.5 168.3 L229.8 168.1 L230.1 168 L230.4 167.8 L230.7 167.7 L231 167.5 L231.3 167.4 L231.6 167.2 L231.9 167.1 L232.2 167 L232.5 166.9 L232.8 166.7 L233.1 166.6 L233.4 166.5 L233.7 166.4 L234 166.3 L234.3 166.2 L234.6 166.1 L234.9 166 L235.2 165.9 L235.5 165.8 L235.8 165.7 L236.1 165.6 L236.4 165.5 L236.7 165.4 L237 165.3 L237.3 165.2 L237.6 165.1 L237.9 165 L238.2 164.9 L238.5 164.9 L238.8 164.8 L239.1 164.7 L239.4 164.6 L239.7 164.5 L240 164.4 L240.3 164.3 L240.6 164.3 L240.9 164.2 L241.2 164.1 L241.5 164 L241.8 163.9 L242.1 163.8 L242.4 163.8 L242.7 163.7 L243 163.6 L243.3 163.5 L243.6 163.5 L243.9 163.4 L244.2 163.3 L244.5 163.2 L244.8 163.2 L245.1 163.1 L245.4 163 L245.7 163 L246 162.9 L246.3 162.8 L246.6 162.8 L247 162.7 L247.3 162.6 L247.6 162.6 L247.9 162.5 L248.2 162.5 L248.5 162.4 L248.8 162.4 L249.1 162.3 L249.4 162.3 L249.7 162.2 L250 162.1 L250.3 162.1 L250.6 162 L250.9 162 L251.2 161.9 L251.5 161.9 L251.8 161.8 L252.1 161.8 L252.4 161.7 L252.7 161.7 L253 161.7 L253.3 161.6 L253.6 161.6 L253.9 161.5 L254.2 161.5 L254.5 161.4 L254.8 161.4 L255.1 161.4 L255.4 161.3 L255.7 161.3 L256 161.3 L256.3 161.2 L256.6 161.2" fill="none" stroke="#333" stroke-width="0.9" stroke-linejoin="round" stroke-linecap="round"/>
<path d="M218.6 191 L218.9 189.3 L219.2 187.7 L219.5 186.3 L219.8 184.9 L220.1 183.7 L220.4 182.6 L220.7 181.5 L221 180.5 L221.3 179.6 L221.6 178.7 L221.9 177.8 L222.2 177 L222.5 176.3 L222.8 175.6 L223.1 175 L223.4 174.5 L223.7 173.9" fill="none" stroke="#000" stroke-width="1.3" stroke-linejoin="round" stroke-linecap="round"/>
<path d="M222.7 177.8 L221.8 177 L222.7 176.9 L222 176.2 L223.1 176.2 L222.6 175.5 L223.2 175.3 L222.9 174.7 L223.6 174.6 L223.2 173.8 L224.5 174.2 L223.8 173.2 L225.2 173.7 L223.8 172.2 L225.6 172.9 L224.7 171.7 L225.9 172.1 L225.2 171 L226.2 171.3 L225.4 169.9 L227.6 171.7 L226.1 169.4 L227.4 170.2 L226.9 168.9 L228.2 169.9 L227.7 168.5 L229.2 169.9 L228.3 167.8 L229.6 169.1 L229.3 167.7 L230.3 168.7 L230 167.1 L231.2 168.6 L230.8 166.8 L231.9 168.2 L231.6 166.4 L232.5 167.4 L232.3 165.8 L233.3 167.1 L233.1 165.5 L234.1 166.9 L234.1 165.6 L235 167.1 L234.7 164.9 L235.8 166.7 L235.7 165 L236.6 166.5 L236.5 164.8 L237.3 165.8 L237.2 164.1 L238.3 166.5 L238.2 164.4 L239.2 166.5 L238.8 163.5 L240 166.3 L239.7 163.5 L240.6 165.1 L240.5 163.4 L241.3 164.5 L241.4 163.4 L242.1 164.2 L242.2 162.8 L242.9 164.2 L243 162.7 L243.7 163.9 L243.8 162.5 L244.7 164.4 L244.6 162 L245.4 163.8 L245.6 162.3 L246.3 163.6 L246.3 161.7 L247.2 164 L247.2 161.7 L248 163.6 L248 161.4 L248.8 163.2 L248.9 161.7 L249.5 162.6 L249.7 161.1 L250.4 162.8 L250.6 161.4 L251.3 163 L251.4 161.2 L252.2 163.1 L252.3 161 L252.9 162.4 L253.1 161 L253.7 162.2 L254 160.9 L254.6 162.6 L254.8 160.7 L255.4 162.2 L255.6 160.2 L256.3 162.2 L256.5 160.4" fill="none" stroke="#000" stroke-width="1" stroke-linejoin="bevel" stroke-linecap="round"/>
<path d="M197.5 213.8 L198.1 213.3 L198.6 214.2 L199.2 213.5 L199.7 213.9 L200.3 213.7 L200.8 214.2 L201.4 213.4 L202 214.3 L202.5 213.6 L203.1 214.1 L203.7 213.6 L204.2 214.2 L204.8 213.5 L205.3 214.3 L205.9 213.8 L206.5 214 L207 213.5 L207.6 214 L208.1 213.8 L208.7 214.4 L209.3 213.8 L209.8 214.4 L210.4 213.8 L210.9 214.4 L211.5 213.8 L212 214.5 L212.6 213.7 L213.2 214.5 L213.7 213.8 L214.3 214.4 L214.8 214 L215.4 214.4 L216 213.8 L216.5 214.5 L217.1 214.2 L217.6 214.7 L218.2 214.2 L218.7 214.7 L219.3 214.1 L219.9 214.4 L220.5 213.9 L221 214.8 L221.6 214.3 L222.1 214.8 L222.7 214.1 L223.2 214.8 L223.8 214.3 L224.3 215 L224.9 214.1 L225.5 214.6 L226 214.4 L226.6 214.8 L227.2 214.4 L227.7 214.9 L228.3 214.5 L228.8 215.1 L229.4 214.4 L229.9 215 L230.5 214.4 L231.1 215.1 L231.6 214.4 L232.2 215.2 L232.7 214.7 L233.3 215.1 L233.9 214.3 L234.4 215.1 L235 214.6 L235.5 215.3 L236.1 214.8 L236.7 214.9 L237.2 214.8 L237.8 215.1 L238.3 214.7 L238.9 215.2 L239.5 214.7 L240 215.3 L240.6 214.6 L241.1 215.4 L241.7 214.6 L242.2 215.3 L242.8 214.7 L243.4 215.2 L243.9 215.1 L244.5 215.5 L245.1 214.9 L245.6 215.4 L246.2 214.9 L246.7 215.2 L247.3 215 L247.8 215.4 L248.4 214.9 L249 215.7 L249.5 215.1 L250.1 215.4 L250.7 215.1 L251.2 215.7 L251.8 215.4 L252.3 215.9 L252.9 215.2 L253.4 215.5 L254 215.5 L254.6 215.7 L255.1 215.5 L255.7 215.9 L256.3 215.3 L256.8 216" fill="none" stroke="#000" stroke-width="1.2" stroke-linejoin="bevel" stroke-linecap="round"/>
<text x="259.6" y="164.4" font-family='"Liberation Serif", serif' font-size="9.1" font-weight="normal" font-style="normal" fill="#000" text-anchor="start" stroke="#000" stroke-width="0.3">6313</text>
<text x="259.4" y="217.2" font-family='"Liberation Serif", serif' font-size="9.1" font-weight="normal" font-style="normal" fill="#000" text-anchor="start" stroke="#000" stroke-width="0.3" textLength="43.6" lengthAdjust="spacing">6313 &#916; <tspan font-style="italic">fbsA</tspan></text>
<line x1="51.6" y1="260.2" x2="51.6" y2="339.2" stroke="#4a4a4a" stroke-width="1.1"/>
<line x1="51.1" y1="338.7" x2="120.5" y2="338.7" stroke="#4a4a4a" stroke-width="1.1"/>
<text transform="translate(49.9 270.9) scale(0.88 1)" font-family='"Liberation Sans", sans-serif' font-size="8.6" fill="#4d4d4d" text-anchor="end">60</text>
<text transform="translate(49.9 293.7) scale(0.88 1)" font-family='"Liberation Sans", sans-serif' font-size="8.6" fill="#4d4d4d" text-anchor="end">40</text>
<text transform="translate(49.9 316.8) scale(0.88 1)" font-family='"Liberation Sans", sans-serif' font-size="8.6" fill="#4d4d4d" text-anchor="end">20</text>
<text transform="translate(49.9 340) scale(0.88 1)" font-family='"Liberation Sans", sans-serif' font-size="8.6" fill="#4d4d4d" text-anchor="end">0</text>
<text x="64.4" y="350.2" font-family='"Liberation Sans", sans-serif' font-size="8.3" font-weight="normal" font-style="normal" fill="#4d4d4d" text-anchor="middle">1</text>
<text x="76.9" y="350.2" font-family='"Liberation Sans", sans-serif' font-size="8.3" font-weight="normal" font-style="normal" fill="#4d4d4d" text-anchor="middle">2</text>
<text x="91.6" y="350.2" font-family='"Liberation Sans", sans-serif' font-size="8.3" font-weight="normal" font-style="normal" fill="#4d4d4d" text-anchor="middle">3</text>
<text x="107" y="350.2" font-family='"Liberation Sans", sans-serif' font-size="8.3" font-weight="normal" font-style="normal" fill="#4d4d4d" text-anchor="middle">4</text>
<text transform="translate(56.8 273.9) scale(0.955 1)" font-family='"Liberation Sans", sans-serif' font-size="21.4" font-weight="bold">V</text>
<path d="M52 332 L52.3 332 L52.6 332 L52.9 332 L53.2 332 L53.5 332 L53.8 332 L54.1 332 L54.4 332 L54.7 332 L55 332 L55.3 332 L55.6 332 L55.9 332 L56.2 332 L56.5 332 L56.8 332 L57.1 332 L57.4 332 L57.7 332 L58 332 L58.3 332 L58.6 332 L58.9 332 L59.2 332 L59.5 332 L59.8 332 L60.1 332 L60.4 332 L60.7 332 L61 332 L61.3 332.1 L61.6 332.3 L62 332.5 L62.3 332.8 L62.6 333.1 L62.9 333.4 L63.2 333.8 L63.5 334.3 L63.8 335 L64.1 335.6 L64.4 336.2 L64.7 336.7 L65 337.1 L65.3 337.5 L65.6 337.8 L65.9 337.7 L66.2 336.9 L66.5 335.8 L66.8 334.6 L67.1 333.4 L67.4 332 L67.7 330.4 L68 328.8 L68.3 327.1 L68.6 325.3 L68.9 323.2 L69.2 321.1 L69.5 318.9 L69.8 316.7 L70.1 314.6 L70.4 312.7 L70.7 311 L71 309.4 L71.3 307.8 L71.6 306.4 L71.9 304.9 L72.2 303.6 L72.5 302.2 L72.8 300.9 L73.1 299.5 L73.4 298.1 L73.7 296.8 L74 295.4 L74.3 294.1 L74.6 292.8 L74.9 291.7 L75.2 290.6 L75.5 289.6 L75.8 288.7 L76.1 287.9 L76.4 287.1 L76.7 286.3 L77 285.5 L77.3 284.8 L77.6 284.1 L77.9 283.5 L78.2 282.9 L78.5 282.3 L78.8 281.8 L79.1 281.3 L79.4 280.8 L79.7 280.4 L80 279.9 L80.3 279.5 L80.6 279.1 L80.9 278.7 L81.2 278.3 L81.6 278 L81.9 277.6 L82.2 277.3 L82.5 277 L82.8 276.7 L83.1 276.4 L83.4 276.1 L83.7 275.8 L84 275.5 L84.3 275.3 L84.6 275 L84.9 274.8 L85.2 274.5 L85.5 274.3 L85.8 274 L86.1 273.8 L86.4 273.6 L86.7 273.3 L87 273.1 L87.3 272.9 L87.6 272.7 L87.9 272.5 L88.2 272.3 L88.5 272.1 L88.8 271.9 L89.1 271.7 L89.4 271.6 L89.7 271.4 L90 271.2 L90.3 271.1 L90.6 270.9 L90.9 270.7 L91.2 270.6 L91.5 270.5 L91.8 270.3 L92.1 270.2 L92.4 270 L92.7 269.9 L93 269.8 L93.3 269.6 L93.6 269.5 L93.9 269.4 L94.2 269.3 L94.5 269.1 L94.8 269 L95.1 268.9 L95.4 268.8 L95.7 268.7 L96 268.6 L96.3 268.4 L96.6 268.3 L96.9 268.2 L97.2 268.1 L97.5 268 L97.8 267.9 L98.1 267.8 L98.4 267.8 L98.7 267.7 L99 267.6 L99.3 267.5 L99.6 267.4 L99.9 267.3 L100.2 267.2 L100.5 267.2 L100.9 267.1 L101.2 267 L101.5 266.9 L101.8 266.9 L102.1 266.8 L102.4 266.7 L102.7 266.7 L103 266.6 L103.3 266.5 L103.6 266.5 L103.9 266.4 L104.2 266.3 L104.5 266.3 L104.8 266.2 L105.1 266.1 L105.4 266.1 L105.7 266 L106 266 L106.3 265.9 L106.6 265.8 L106.9 265.8 L107.2 265.7 L107.5 265.7 L107.8 265.6 L108.1 265.6 L108.4 265.6 L108.7 265.5 L109 265.5 L109.3 265.4 L109.6 265.4 L109.9 265.4 L110.2 265.3 L110.5 265.3" fill="none" stroke="#444" stroke-width="0.8" stroke-linejoin="round" stroke-linecap="round"/>
<path d="M52 332 L52.3 332 L52.6 332 L52.9 332 L53.2 332 L53.5 332 L53.8 332 L54.1 332 L54.4 332 L54.7 332 L55 332 L55.3 332 L55.6 332 L55.9 332 L56.2 332 L56.5 332 L56.8 332 L57.1 332 L57.4 332 L57.7 332 L58 332 L58.3 332 L58.6 332 L58.9 332 L59.2 332 L59.5 332 L59.8 332 L60.1 332 L60.4 332 L60.7 332 L61 332 L61.3 332.1 L61.6 332.3 L62 332.5 L62.3 332.8" fill="none" stroke="#000" stroke-width="1.4" stroke-linejoin="round" stroke-linecap="round"/>
<path d="M70.1 314.6 L70.4 312.7 L70.7 311 L71 309.4 L71.3 307.8 L71.6 306.4 L71.9 304.9 L72.2 303.6 L72.5 302.2 L72.8 300.9 L73.1 299.5 L73.4 298.1 L73.7 296.8 L74 295.4 L74.3 294.1 L74.6 292.8 L74.9 291.7" fill="none" stroke="#000" stroke-width="1.4" stroke-linejoin="round" stroke-linecap="round"/>
<path d="M72.4 304.5 L71.7 303.9 L72.6 303.7 L71.8 303.2 L72.8 303 L71.9 302.4 L72.8 302.2 L72 301.6 L73.1 301.5 L72.1 300.9 L73.2 300.7 L72.2 300.1 L73.3 300 L72.3 299.4 L73.7 299.3 L72.6 298.6 L74.2 298.6 L72.7 297.9 L74 297.8 L72.7 297.1 L74.2 297 L72.8 296.3 L74.6 296.3 L72.9 295.5 L75.1 295.6 L73.2 294.8 L75.2 294.9 L73.2 294 L75.1 294.1 L73.2 293.2 L75.8 293.5 L73.9 292.6 L75.8 292.7 L73.7 291.7 L75.7 291.9 L73.7 290.9 L75.7 291.1 L73.8 290.1 L76.2 290.4 L74 289.3 L76.7 289.8 L74.7 288.7 L77.1 289.2 L74.5 287.8 L77.1 288.4 L74.8 287.1 L77.6 287.8 L75.3 286.5 L77.5 286.9 L75.5 285.7 L77.7 286.2 L75.3 284.8 L78.7 285.8 L75.9 284.1 L79.1 285.1 L76.5 283.6 L78.9 284.2 L76.4 282.6 L79.7 283.8 L76.5 281.7 L80.3 283.4 L77 281.1 L80.4 282.6 L77.4 280.3 L81 282.1 L77.6 279.5 L81.6 281.7 L78.2 278.9 L81.2 280.5 L78.5 278 L82 280.2 L79.5 277.8 L82.3 279.6 L80 277.1 L83 279.2 L80.1 276.1 L83 278.2 L80.8 275.6 L83.6 277.8 L81.5 275.1 L84.6 277.7 L82.2 274.6 L85.1 277.3 L82.4 273.7 L85.4 276.5 L83.2 273.3 L85.5 275.5 L84 273.1 L88 277.4 L84.3 272.2 L87.3 275.3 L85.1 271.8 L87.3 274.2 L85.5 271 L88.9 275.1 L86.7 271.3 L88.8 273.7 L87.4 270.9 L89.4 273.3 L87.7 269.8 L90 272.9 L88.5 269.6 L90.5 272.2 L89.5 269.7 L91.5 272.7 L90 268.8 L91.8 271.5 L91 268.9 L92.9 272.1 L91.5 268.2 L93.6 271.9 L92.3 268.1 L94.2 271.5 L93.2 268.2 L94.7 270.7 L93.7 267.3 L95.3 270.3 L94.5 267.2 L96.2 270.4 L95.4 267.1 L96.9 270.1 L96 266.6 L97.3 269.1 L96.9 266.8 L98.1 269.1 L97.7 266.5 L99 269.5 L98.3 265.8 L99.8 269.5 L99.2 266.1 L100.2 268.4 L99.9 265.5 L101 268.5 L100.8 265.8 L101.8 268.6 L101.4 265.2 L102.4 267.7 L102.1 264.9 L103.2 267.6 L103 265 L104 267.8 L103.7 264.5 L104.7 267.8 L104.5 264.5 L105.5 267.8 L105.2 264.4 L106.2 267.3 L106 264.2 L106.8 266.5 L106.8 264 L107.7 267.4 L107.6 264 L108.4 266.6 L108.4 264.3 L109.1 266.1 L109.2 263.9 L109.9 266.8 L110 263.9 L110.6 266.3" fill="none" stroke="#000" stroke-width="1" stroke-linejoin="bevel" stroke-linecap="round"/>
<path d="M52.3 327.5 L52.8 327 L53.3 327.4 L53.8 326.8 L54.3 327.5 L54.8 326.9 L55.3 327.5 L55.9 327.1 L56.3 327.5 L56.9 327.2 L57.3 327.7 L57.9 327.2 L58.3 327.9 L58.9 327.4 L59.4 327.7 L59.9 327.2 L60.4 327.8 L60.9 327.6 L61.4 327.7 L61.9 327.5 L62.4 327.8 L62.9 327.4 L63.4 327.9 L64 327.5 L64.4 327.9 L65 327.8 L65.4 328.1 L66 327.9 L66.5 328.1 L67 327.9 L67.5 328.1 L68 327.8 L68.5 328.4 L69 328 L69.5 328.6 L70 328.2 L70.5 328.3 L71 328.3 L71.5 328.5 L72.1 327.9 L72.5 328.5 L73.1 328.2 L73.5 328.7 L74.1 328.1 L74.5 328.8 L75.1 328.4 L75.6 328.7 L76.1 328.3 L76.6 328.7 L77.1 328.4 L77.6 328.7 L78.1 328.6 L78.6 329 L79.1 328.5 L79.6 329.3 L80.1 328.5 L80.6 329.2 L81.1 328.8 L81.6 329 L82.2 328.7 L82.7 329 L83.2 328.9 L83.6 329.3 L84.2 329 L84.7 329.1 L85.2 329 L85.7 329.3 L86.2 329 L86.7 329.7 L87.2 329.2 L87.7 329.3 L88.2 329.2 L88.7 329.4 L89.2 329.2 L89.7 329.6 L90.3 329.3 L90.7 329.5 L91.3 329.1 L91.7 329.9 L92.3 329.2 L92.8 329.7 L93.3 329.2 L93.8 329.6 L94.3 329.5 L94.8 329.7 L95.3 329.3 L95.8 329.8 L96.3 329.4 L96.8 330.1 L97.3 329.7 L97.8 329.9 L98.4 329.7 L98.8 330.1 L99.4 329.5 L99.8 330.2 L100.4 329.5 L100.9 330.1 L101.4 330 L101.9 330 L102.4 329.9 L102.9 330.2 L103.4 330.1 L103.9 330.4 L104.4 330 L104.9 330.3 L105.4 330.2 L105.9 330.6 L106.5 329.9 L106.9 330.4 L107.5 330 L108 330.6 L108.5 330 L109 330.6 L109.5 330 L110 330.5 L110.5 330.2 L111 330.9" fill="none" stroke="#000" stroke-width="1.2" stroke-linejoin="bevel" stroke-linecap="round"/>
<text x="112.6" y="269" font-family='"Liberation Serif", serif' font-size="9.1" font-weight="normal" font-style="normal" fill="#000" text-anchor="start" stroke="#000" stroke-width="0.3">1504</text>
<text x="112.6" y="333.2" font-family='"Liberation Serif", serif' font-size="9.1" font-weight="normal" font-style="normal" fill="#000" text-anchor="start" stroke="#000" stroke-width="0.3" textLength="44.5" lengthAdjust="spacing">1504 &#916; <tspan font-style="italic">fbsA</tspan></text>
<line x1="197.5" y1="262.3" x2="197.5" y2="341" stroke="#4a4a4a" stroke-width="1.3"/>
<line x1="196.8" y1="340.5" x2="252" y2="340.5" stroke="#707070" stroke-width="0.9"/>
<text transform="translate(195.9 273.4) scale(0.88 1)" font-family='"Liberation Sans", sans-serif' font-size="8.7" fill="#4d4d4d" text-anchor="end">60</text>
<text transform="translate(195.9 296.4) scale(0.88 1)" font-family='"Liberation Sans", sans-serif' font-size="8.7" fill="#4d4d4d" text-anchor="end">40</text>
<text transform="translate(195.9 319.6) scale(0.88 1)" font-family='"Liberation Sans", sans-serif' font-size="8.7" fill="#4d4d4d" text-anchor="end">20</text>
<text transform="translate(195.9 341.9) scale(0.88 1)" font-family='"Liberation Sans", sans-serif' font-size="8.7" fill="#4d4d4d" text-anchor="end">0</text>
<text x="202" y="350.1" font-family='"Liberation Sans", sans-serif' font-size="9.3" font-weight="normal" font-style="normal" fill="#4d4d4d" text-anchor="middle">1</text>
<text x="222.6" y="350.1" font-family='"Liberation Sans", sans-serif' font-size="9.3" font-weight="normal" font-style="normal" fill="#4d4d4d" text-anchor="middle">10</text>
<text x="246.3" y="350.1" font-family='"Liberation Sans", sans-serif' font-size="9.3" font-weight="normal" font-style="normal" fill="#4d4d4d" text-anchor="middle">15</text>
<text transform="translate(202.9 274) scale(0.96 1)" font-family='"Liberation Sans", sans-serif' font-size="21.5" font-weight="bold">V</text>
<path d="M198.5 336 L198.8 336 L199.1 336 L199.4 336 L199.7 336 L200 336 L200.3 336 L200.6 336 L200.9 336 L201.2 336 L201.5 336 L201.8 336 L202.1 336 L202.4 336 L202.7 336 L203 336 L203.3 336 L203.6 336 L204 336 L204.3 336 L204.6 336 L204.9 336 L205.2 336 L205.5 336 L205.8 336 L206.1 336 L206.4 336 L206.7 336 L207 336 L207.3 336 L207.6 336 L207.9 336 L208.2 336 L208.5 336 L208.8 336 L209.1 336 L209.4 336 L209.7 336 L210 336 L210.3 335.9 L210.6 335.9 L210.9 335.9 L211.2 335.9 L211.5 335.9 L211.8 335.9 L212.1 335.9 L212.4 335.9 L212.7 335.9 L213 335.9 L213.3 335.9 L213.6 335.9 L213.9 335.9 L214.2 335.9 L214.6 335.9 L214.9 335.9 L215.2 335.9 L215.5 335.8 L215.8 335.8 L216.1 335.8 L216.4 335.7 L216.7 335.7 L217 335.6 L217.3 335.5 L217.6 335.5 L217.9 335.4 L218.2 335.3 L218.5 335.2 L218.8 335.1 L219.1 335 L219.4 334.9 L219.7 334.8 L220 334.7 L220.3 334.6 L220.6 334.4 L220.9 334.3 L221.2 334.2 L221.5 334 L221.8 333.9 L222.1 333.7 L222.4 333.5 L222.7 333.2 L223 332.9 L223.3 332.5 L223.6 332.2 L223.9 331.8 L224.2 331.3 L224.5 330.9 L224.8 330.4 L225.2 329.9 L225.5 329.4 L225.8 328.9 L226.1 328.4 L226.4 327.8 L226.7 327.3 L227 326.7 L227.3 326.1 L227.6 325.4 L227.9 324.7 L228.2 323.9 L228.5 323.1 L228.8 322.3 L229.1 321.4 L229.4 320.4 L229.7 319.4 L230 318.4 L230.3 317.2 L230.6 315.9 L230.9 314.4 L231.2 312.8 L231.5 311.1 L231.8 309.5 L232.1 307.8 L232.4 306.2 L232.7 304.7 L233 303.1 L233.3 301.4 L233.6 299.8 L233.9 298.3 L234.2 296.8 L234.5 295.4 L234.8 294.2 L235.1 293.2 L235.4 292.3 L235.8 291.4 L236.1 290.6 L236.4 289.8 L236.7 289 L237 288.3 L237.3 287.7 L237.6 287.1 L237.9 286.5 L238.2 286 L238.5 285.5 L238.8 285 L239.1 284.6 L239.4 284.2 L239.7 283.8 L240 283.5 L240.3 283.1 L240.6 282.8 L240.9 282.5 L241.2 282.1 L241.5 281.9 L241.8 281.6 L242.1 281.3 L242.4 281.1 L242.7 280.9 L243 280.6 L243.3 280.4 L243.6 280.3 L243.9 280.1 L244.2 279.9 L244.5 279.8 L244.8 279.6 L245.1 279.5 L245.4 279.3 L245.7 279.2 L246 279 L246.4 278.9 L246.7 278.8 L247 278.7 L247.3 278.6 L247.6 278.5 L247.9 278.3 L248.2 278.2 L248.5 278.1 L248.8 278 L249.1 277.9 L249.4 277.8 L249.7 277.7 L250 277.6 L250.3 277.5 L250.6 277.3 L250.9 277.2 L251.2 277.1 L251.5 277" fill="none" stroke="#222" stroke-width="0.9" stroke-linejoin="round" stroke-linecap="round"/>
<path d="M230.6 315.9 L230.9 314.4 L231.2 312.8 L231.5 311.1 L231.8 309.5 L232.1 307.8 L232.4 306.2 L232.7 304.7 L233 303.1 L233.3 301.4 L233.6 299.8 L233.9 298.3" fill="none" stroke="#000" stroke-width="1.5" stroke-linejoin="round" stroke-linecap="round"/>
<path d="M232.8 305.7 L232 305.2 L233.2 305.2 L232.1 304.6 L233.2 304.5 L232.2 304 L233.5 304 L232.2 303.4 L233.7 303.4 L232.3 302.8 L233.7 302.8 L232.5 302.2 L233.8 302.2 L232.4 301.6 L234 301.6 L232.5 301 L234.3 301 L232.6 300.4 L234.3 300.4 L232.7 299.8 L234.5 299.8 L232.8 299.2 L234.9 299.3 L232.9 298.6 L234.7 298.6 L232.8 297.9 L235.2 298.1 L232.9 297.4 L234.7 297.4 L233.1 296.7 L235.3 296.9 L233.2 296.1 L235.6 296.4 L233.2 295.5 L235.4 295.7 L233.4 294.9 L235.7 295.2 L233.5 294.3 L235.8 294.6 L233.5 293.6 L236.4 294.2 L233.7 293 L236.7 293.6 L233.7 292.4 L236.6 293 L233.8 291.7 L236.3 292.3 L234.2 291.2 L238.2 292.3 L234.4 290.6 L237.6 291.5 L234.3 289.9 L237.9 290.9 L234.6 289.3 L237.3 290.1 L234.6 288.7 L238.6 290 L234.5 288 L238.2 289.2 L235 287.5 L239.2 289 L235 286.7 L238.8 288.2 L235.5 286.2 L240.3 288.3 L235.6 285.5 L240.2 287.7 L235.9 284.9 L240.1 287 L235.8 284 L239.8 286.2 L236.6 283.7 L240.6 286.1 L236.9 283 L241.4 286 L237.1 282.4 L241.1 285.1 L237.4 281.7 L241.4 284.6 L238.3 281.5 L241.8 284.3 L238.6 280.9 L241.9 283.6 L239 280.3 L243.3 284.3 L239.3 279.6 L243.3 283.5 L240.1 279.3 L243.7 283.2 L240.5 278.6 L244 282.7 L241.1 278.2 L244.6 282.9 L242 278.2 L245 282.5 L242.6 277.8 L245.5 282.4 L243.1 277.3 L245.9 281.9 L243.7 276.9 L246.5 282.1 L244.4 276.8 L246.9 281.7 L245.1 276.6 L247.3 281.3 L245.7 276.4 L247.7 280.6 L246.3 276.1 L248 279.8 L246.9 275.8 L249 280.9 L247.6 276 L249.3 279.8 L248 275.4 L249.9 279.9 L248.7 275.4 L250.6 279.9 L249.3 275.5 L251.1 279.4 L249.7 274.9 L251.4 278.6 L250.5 275.1 L252.5 279.7" fill="none" stroke="#000" stroke-width="1.1" stroke-linejoin="bevel" stroke-linecap="round"/>
<path d="M198.5 335 L198.8 335 L199.1 335 L199.4 335 L199.7 335 L200 335 L200.3 335 L200.6 335 L200.9 335 L201.2 335 L201.5 335 L201.8 335 L202.1 335 L202.4 335 L202.7 335 L203 335 L203.3 335 L203.6 335 L203.9 335 L204.2 335 L204.5 334.9 L204.8 334.9 L205.1 334.9 L205.5 334.9 L205.8 334.9 L206.1 334.9 L206.4 334.9 L206.7 334.9 L207 334.9 L207.3 334.9 L207.6 334.9 L207.9 334.9 L208.2 334.9 L208.5 334.9 L208.8 334.9 L209.1 334.9 L209.4 334.9 L209.7 334.9 L210 334.9 L210.3 334.9 L210.6 334.9 L210.9 334.9 L211.2 334.9 L211.5 334.9 L211.8 334.8 L212.1 334.8 L212.4 334.8 L212.7 334.8 L213 334.8 L213.3 334.8 L213.6 334.8 L213.9 334.8 L214.2 334.8 L214.5 334.8 L214.8 334.8 L215.1 334.8 L215.4 334.8 L215.7 334.8 L216 334.8 L216.3 334.8 L216.6 334.8 L216.9 334.8 L217.2 334.8 L217.5 334.7 L217.8 334.7 L218.1 334.7 L218.4 334.7 L218.8 334.7 L219.1 334.7 L219.4 334.7 L219.7 334.7 L220 334.7 L220.3 334.7 L220.6 334.7 L220.9 334.7 L221.2 334.7 L221.5 334.7 L221.8 334.7 L222.1 334.7 L222.4 334.7 L222.7 334.6 L223 334.6 L223.3 334.6 L223.6 334.6 L223.9 334.6 L224.2 334.6 L224.5 334.6 L224.8 334.6 L225.1 334.6 L225.4 334.6 L225.7 334.6 L226 334.6 L226.3 334.6 L226.6 334.6 L226.9 334.6 L227.2 334.6 L227.5 334.5 L227.8 334.5 L228.1 334.5 L228.4 334.5 L228.7 334.5 L229 334.5 L229.3 334.5 L229.6 334.5 L229.9 334.5 L230.2 334.5 L230.5 334.5 L230.8 334.5 L231.1 334.5 L231.4 334.4 L231.7 334.4 L232.1 334.4 L232.4 334.4 L232.7 334.4 L233 334.4 L233.3 334.4 L233.6 334.4 L233.9 334.4 L234.2 334.4 L234.5 334.4 L234.8 334.3 L235.1 334.3 L235.4 334.3 L235.7 334.3 L236 334.3 L236.3 334.3 L236.6 334.3 L236.9 334.3 L237.2 334.3 L237.5 334.3 L237.8 334.2 L238.1 334.2 L238.4 334.2 L238.7 334.2 L239 334.2 L239.3 334.2 L239.6 334.2 L239.9 334.2 L240.2 334.2 L240.5 334.2 L240.8 334.1 L241.1 334.1 L241.4 334.1 L241.7 334.1 L242 334.1 L242.3 334.1 L242.6 334.1 L242.9 334.1 L243.2 334.1 L243.5 334 L243.8 334 L244.1 334 L244.4 334 L244.7 334 L245 334 L245.4 334 L245.7 334 L246 333.9 L246.3 333.9 L246.6 333.9 L246.9 333.9 L247.2 333.9 L247.5 333.9 L247.8 333.9 L248.1 333.9 L248.4 333.9 L248.7 333.8 L249 333.8 L249.3 333.8 L249.6 333.8 L249.9 333.8 L250.2 333.8 L250.5 333.8 L250.8 333.8 L251.1 333.7 L251.4 333.7 L251.7 333.7 L252 333.7" fill="none" stroke="#000" stroke-width="1.2" stroke-linejoin="round" stroke-linecap="round"/>
<line x1="207" y1="342" x2="212.5" y2="333" stroke="#333" stroke-width="0.9"/>
<line x1="210.6" y1="342" x2="216.1" y2="333" stroke="#333" stroke-width="0.9"/>
<text x="254.8" y="281.2" font-family='"Liberation Serif", serif' font-size="9.1" font-weight="normal" font-style="normal" fill="#000" text-anchor="start" stroke="#000" stroke-width="0.3" textLength="28.3" lengthAdjust="spacing">SS1169</text>
<text x="254.8" y="336.5" font-family='"Liberation Serif", serif' font-size="9.1" font-weight="normal" font-style="normal" fill="#000" text-anchor="start" stroke="#000" stroke-width="0.3" textLength="52.4" lengthAdjust="spacing">SS1169 &#916;<tspan font-style="italic">fbsA</tspan></text>
<line x1="369" y1="26" x2="369" y2="136.6" stroke="#404040" stroke-width="1.2"/>
<line x1="368" y1="147.2" x2="493.2" y2="147.2" stroke="#1a1a1a" stroke-width="1"/>
<text x="365.3" y="32.1" font-family='"Liberation Sans", sans-serif' font-size="8.5" font-weight="bold" font-style="normal" fill="#000" text-anchor="end">80</text>
<text x="365.3" y="43.9" font-family='"Liberation Sans", sans-serif' font-size="8.5" font-weight="bold" font-style="normal" fill="#000" text-anchor="end">70</text>
<text x="365.3" y="57.5" font-family='"Liberation Sans", sans-serif' font-size="8.5" font-weight="bold" font-style="normal" fill="#000" text-anchor="end">60</text>
<text x="365.3" y="70.8" font-family='"Liberation Sans", sans-serif' font-size="8.5" font-weight="bold" font-style="normal" fill="#000" text-anchor="end">50</text>
<text x="365.3" y="84.4" font-family='"Liberation Sans", sans-serif' font-size="8.5" font-weight="bold" font-style="normal" fill="#000" text-anchor="end">40</text>
<text x="365.3" y="98.3" font-family='"Liberation Sans", sans-serif' font-size="8.5" font-weight="bold" font-style="normal" fill="#000" text-anchor="end">30</text>
<text x="365.3" y="112.1" font-family='"Liberation Sans", sans-serif' font-size="8.5" font-weight="bold" font-style="normal" fill="#000" text-anchor="end">20</text>
<text x="365.3" y="125.8" font-family='"Liberation Sans", sans-serif' font-size="8.5" font-weight="bold" font-style="normal" fill="#000" text-anchor="end">10</text>
<text x="365.3" y="139.5" font-family='"Liberation Sans", sans-serif' font-size="8.5" font-weight="bold" font-style="normal" fill="#000" text-anchor="end">0</text>
<text x="377.6" y="160.6" font-family='"Liberation Sans", sans-serif' font-size="9.6" font-weight="normal" font-style="normal" fill="#000" text-anchor="middle" stroke="#000" stroke-width="0.2">1</text>
<text x="386.6" y="160.6" font-family='"Liberation Sans", sans-serif' font-size="9.6" font-weight="normal" font-style="normal" fill="#000" text-anchor="middle" stroke="#000" stroke-width="0.2">2</text>
<text x="399" y="160.6" font-family='"Liberation Sans", sans-serif' font-size="9.6" font-weight="normal" font-style="normal" fill="#000" text-anchor="middle" stroke="#000" stroke-width="0.2">3</text>
<text x="408.3" y="160.6" font-family='"Liberation Sans", sans-serif' font-size="9.6" font-weight="normal" font-style="normal" fill="#000" text-anchor="middle" stroke="#000" stroke-width="0.2">4</text>
<text x="419.6" y="160.6" font-family='"Liberation Sans", sans-serif' font-size="9.6" font-weight="normal" font-style="normal" fill="#000" text-anchor="middle" stroke="#000" stroke-width="0.2">5</text>
<text x="430.3" y="160.6" font-family='"Liberation Sans", sans-serif' font-size="9.6" font-weight="normal" font-style="normal" fill="#000" text-anchor="middle" stroke="#000" stroke-width="0.2">6</text>
<text x="441.6" y="160.6" font-family='"Liberation Sans", sans-serif' font-size="9.6" font-weight="normal" font-style="normal" fill="#000" text-anchor="middle" stroke="#000" stroke-width="0.2">7</text>
<text x="452.6" y="160.6" font-family='"Liberation Sans", sans-serif' font-size="9.6" font-weight="normal" font-style="normal" fill="#000" text-anchor="middle" stroke="#000" stroke-width="0.2">8</text>
<text x="464" y="160.6" font-family='"Liberation Sans", sans-serif' font-size="9.6" font-weight="normal" font-style="normal" fill="#000" text-anchor="middle" stroke="#000" stroke-width="0.2">9</text>
<text x="477" y="160.6" font-family='"Liberation Sans", sans-serif' font-size="9.6" font-weight="normal" font-style="normal" fill="#000" text-anchor="middle" stroke="#000" stroke-width="0.2">10</text>
<text x="489.2" y="160.6" font-family='"Liberation Sans", sans-serif' font-size="9.6" font-weight="normal" font-style="normal" fill="#000" text-anchor="middle" stroke="#000" stroke-width="0.2">11</text>
<text x="411.1" y="171.5" font-family='"Liberation Sans", sans-serif' font-size="9.6" font-weight="bold" font-style="normal" fill="#000" text-anchor="start">Time (min)</text>
<text transform="translate(336.1 122.6) rotate(-90)" font-family='"Liberation Sans", sans-serif' font-size="10.2" font-weight="bold" textLength="93.3" lengthAdjust="spacingAndGlyphs">Platelet Aggregation</text>
<text transform="translate(348.2 130) rotate(-90)" font-family='"Liberation Sans", sans-serif' font-size="10.2" font-weight="bold" textLength="101.3" lengthAdjust="spacingAndGlyphs">(% light transmission)</text>
<path d="M370.4 122.5 L370.7 122.6 L371 122.6 L371.3 122.7 L371.6 122.8 L371.9 122.8 L372.2 122.9 L372.5 123 L372.8 123.1 L373.1 123.2 L373.4 123.3 L373.7 123.4 L374 123.6 L374.3 123.7 L374.6 123.8 L374.9 124 L375.2 124.2 L375.5 124.6 L375.8 125.1 L376.1 125.8 L376.4 126.7 L376.7 127.8 L377.1 129 L377.4 131 L377.7 134.3 L378 137.8 L378.3 140.5 L378.6 141.3 L378.9 140.1 L379.2 137.9 L379.5 135.4 L379.8 132.9 L380.1 129.9 L380.4 126.7 L380.7 123.3 L381 120 L381.3 116.5 L381.6 112.8 L381.9 108.7 L382.2 103.9 L382.5 98.8 L382.8 94.6 L383.1 91.3 L383.4 88.3 L383.7 85.7 L384 83.2 L384.3 80.9 L384.6 78.7 L384.9 76.6 L385.2 74.6 L385.5 72.6 L385.8 70.8 L386.1 69.1 L386.4 67.5 L386.7 66 L387 64.6 L387.3 63.3 L387.6 62.1 L387.9 61 L388.2 60 L388.5 59 L388.8 58.1 L389.1 57.3 L389.4 56.5 L389.7 55.7 L390.1 55 L390.4 54.3 L390.7 53.7 L391 53.1 L391.3 52.6 L391.6 52 L391.9 51.6 L392.2 51.1 L392.5 50.7 L392.8 50.3 L393.1 50 L393.4 49.7 L393.7 49.4 L394 49.1 L394.3 48.9 L394.6 48.6 L394.9 48.4 L395.2 48.2 L395.5 48 L395.8 47.8 L396.1 47.7 L396.4 47.5 L396.7 47.3 L397 47.2 L397.3 47 L397.6 46.9 L397.9 46.7 L398.2 46.6 L398.5 46.5 L398.8 46.4 L399.1 46.3 L399.4 46.1 L399.7 46 L400 45.9 L400.3 45.8 L400.6 45.7 L400.9 45.6 L401.2 45.6 L401.5 45.5 L401.8 45.4 L402.1 45.3 L402.4 45.2 L402.7 45.1 L403.1 45 L403.4 44.9 L403.7 44.9 L404 44.8 L404.3 44.7 L404.6 44.6 L404.9 44.6 L405.2 44.5 L405.5 44.4 L405.8 44.3 L406.1 44.3 L406.4 44.2 L406.7 44.1 L407 44 L407.3 44 L407.6 43.9 L407.9 43.8 L408.2 43.7 L408.5 43.7 L408.8 43.6 L409.1 43.5 L409.4 43.4 L409.7 43.4 L410 43.3 L410.3 43.2 L410.6 43.1 L410.9 43 L411.2 43 L411.5 42.9 L411.8 42.8 L412.1 42.7 L412.4 42.6 L412.7 42.5 L413 42.4 L413.3 42.3 L413.6 42.3 L413.9 42.2 L414.2 42.1 L414.5 42 L414.8 41.9 L415.1 41.8 L415.4 41.7 L415.7 41.7 L416.1 41.6 L416.4 41.5 L416.7 41.4 L417 41.4 L417.3 41.3 L417.6 41.2 L417.9 41.2 L418.2 41.1 L418.5 41 L418.8 40.9 L419.1 40.9 L419.4 40.8 L419.7 40.7 L420 40.7 L420.3 40.6 L420.6 40.6 L420.9 40.5 L421.2 40.4 L421.5 40.4 L421.8 40.3 L422.1 40.3 L422.4 40.2" fill="none" stroke="#222" stroke-width="1" stroke-linejoin="round" stroke-linecap="round"/>
<path d="M370.4 122.5 L370.7 122.6 L371 122.6 L371.3 122.7 L371.6 122.8 L371.9 122.8 L372.2 122.9 L372.5 123 L372.8 123.1 L373.1 123.2 L373.4 123.3 L373.7 123.4 L374 123.6 L374.3 123.7 L374.6 123.8 L374.9 124 L375.2 124.2" fill="none" stroke="#000" stroke-width="1.2" stroke-linejoin="round" stroke-linecap="round"/>
<path d="M382.8 94.6 L383.1 91.3 L383.4 88.3 L383.7 85.7 L384 83.2 L384.3 80.9 L384.6 78.7 L384.9 76.6 L385.2 74.6 L385.5 72.6 L385.8 70.8 L386.1 69.1 L386.4 67.5 L386.7 66 L387 64.6 L387.3 63.3 L387.6 62.1 L387.9 61 L388.2 60 L388.5 59 L388.8 58.1" fill="none" stroke="#000" stroke-width="1.4" stroke-linejoin="round" stroke-linecap="round"/>
<path d="M386.3 69.7 L385.9 69.2 L386.5 68.9 L386 68.4 L386.4 68.1 L386.1 67.6 L386.8 67.4 L386.3 66.8 L386.9 66.5 L386.4 66 L386.9 65.7 L386.6 65.2 L387.3 65 L386.6 64.4 L387.4 64.2 L387 63.7 L387.8 63.4 L387 62.8 L387.7 62.6 L387.3 62 L388 61.8 L387.5 61.3 L388.5 61.1 L387.7 60.5 L388.4 60.3 L388 59.7 L388.7 59.5 L388.2 58.9 L388.9 58.7 L388.4 58.1 L389.5 58.1 L388.7 57.4 L389.9 57.4 L389 56.6 L389.8 56.5 L389.3 55.8 L390.3 55.8 L389.5 55 L391 55.2 L390 54.3 L390.7 54.2 L390.3 53.6 L391.5 53.7 L390.5 52.7 L391.8 53 L390.7 51.9 L392.3 52.4 L391.1 51.2 L392.8 51.8 L391.6 50.4 L393.1 51.1 L392.4 50 L393.7 50.6 L392.9 49.3 L394.2 50 L393.6 48.7 L394.6 49.3 L394.1 48 L395.5 49.2 L394.9 47.7 L395.8 48.4 L395.7 47.3 L396.8 48.4 L396.2 46.6 L397.5 48.2 L397 46.2 L397.9 47.2 L397.7 45.8 L398.8 47.3 L398.5 45.4 L399.4 46.6 L399.4 45.5 L400.2 46.4 L400.2 45.2 L401.1 46.7 L400.9 44.6 L401.8 46.5 L401.7 44.6 L402.5 45.9 L402.4 44.1 L403.4 46 L403.4 44.4 L404 45.2 L404 43.7 L404.9 45.5 L404.9 43.8 L405.6 44.8 L405.6 43.2 L406.4 45 L406.5 43.5 L407.3 45 L407.2 42.8 L408.1 44.8 L408 43 L408.8 44.3 L408.9 43 L409.6 44.3 L409.7 42.8 L410.5 44.5 L410.4 42.6 L411.3 44.1 L411.1 41.9 L411.9 43.1 L412 42.1 L412.8 43.6 L412.7 41.6 L413.4 42.7 L413.4 41.2 L414.3 42.7 L414.2 40.9 L415.1 42.6 L415.1 41 L415.9 42.4 L415.8 40.4 L416.6 42 L416.6 40.5 L417.3 41.7 L417.4 40.3 L418.2 41.9 L418.2 40 L418.9 41.3 L419 40 L419.8 41.6 L419.9 40.1 L420.5 40.9 L420.7 40 L421.3 41.1 L421.4 39.2 L422.2 41.3 L422.2 39.2" fill="none" stroke="#000" stroke-width="1.4" stroke-linejoin="bevel" stroke-linecap="round"/>
<path d="M370.4 126.1 L370.7 126.1 L371 126.1 L371.3 126.2 L371.6 126.2 L371.9 126.3 L372.2 126.3 L372.5 126.4 L372.8 126.5 L373.1 126.6 L373.4 126.8 L373.7 126.9 L374 127 L374.3 127.2 L374.6 127.4 L374.9 127.6 L375.2 128.1 L375.5 128.6 L375.8 129.1 L376.1 129.6 L376.4 130 L376.7 130.5 L377.1 130.9 L377.4 131.3 L377.7 131.7 L378 132.1 L378.3 132.4 L378.6 132.8 L378.9 133.2 L379.2 133.5 L379.5 134 L379.8 134.5 L380.1 135.1 L380.4 135.8 L380.7 136.4 L381 136.8 L381.3 137 L381.6 136.8 L381.9 136.4 L382.2 135.7 L382.5 134.8 L382.8 133.8 L383.1 132.8 L383.4 131.7 L383.7 130.2 L384 128.6 L384.3 126.8 L384.6 124.9 L384.9 123 L385.2 121.1 L385.5 119 L385.8 116.7 L386.1 114.5 L386.4 112.1 L386.7 109.8 L387 107.4 L387.3 104.9 L387.6 102.4 L387.9 100 L388.2 97.9 L388.5 95.9 L388.8 94 L389.1 92.2 L389.4 90.5 L389.7 88.8 L390 87.2 L390.4 85.6 L390.7 84.1 L391 82.6 L391.3 81.1 L391.6 79.6 L391.9 78.2 L392.2 76.9 L392.5 75.6 L392.8 74.3 L393.1 73.1 L393.4 71.9 L393.7 70.8 L394 69.7 L394.3 68.6 L394.6 67.6 L394.9 66.6 L395.2 65.7 L395.5 64.9 L395.8 64.2 L396.1 63.5 L396.4 62.9 L396.7 62.4 L397 61.8 L397.3 61.3 L397.6 60.8 L397.9 60.4 L398.2 59.9 L398.5 59.5 L398.8 59.1 L399.1 58.7 L399.4 58.4 L399.7 58 L400 57.6 L400.3 57.3 L400.6 57 L400.9 56.6 L401.2 56.3 L401.5 56 L401.8 55.7 L402.1 55.4 L402.4 55.2 L402.7 54.9 L403 54.6 L403.4 54.4 L403.7 54.2 L404 53.9 L404.3 53.7 L404.6 53.5 L404.9 53.3 L405.2 53.1 L405.5 52.9 L405.8 52.8 L406.1 52.6 L406.4 52.4 L406.7 52.2 L407 52.1 L407.3 51.9 L407.6 51.8 L407.9 51.6 L408.2 51.5 L408.5 51.3 L408.8 51.2 L409.1 51.1 L409.4 50.9 L409.7 50.8 L410 50.7 L410.3 50.6 L410.6 50.4 L410.9 50.3 L411.2 50.2 L411.5 50.1 L411.8 50 L412.1 49.9 L412.4 49.8 L412.7 49.7 L413 49.6 L413.3 49.5 L413.6 49.4 L413.9 49.4 L414.2 49.3 L414.5 49.2 L414.8 49.1 L415.1 49 L415.4 48.9 L415.7 48.9 L416 48.8 L416.3 48.7 L416.7 48.6 L417 48.6 L417.3 48.5 L417.6 48.4 L417.9 48.3 L418.2 48.3 L418.5 48.2 L418.8 48.1 L419.1 48 L419.4 48 L419.7 47.9 L420 47.8 L420.3 47.8 L420.6 47.7 L420.9 47.6 L421.2 47.6 L421.5 47.5 L421.8 47.4 L422.1 47.4 L422.4 47.3 L422.7 47.3 L423 47.2" fill="none" stroke="#222" stroke-width="1" stroke-linejoin="round" stroke-linecap="round"/>
<path d="M370.4 126.1 L370.7 126.1 L371 126.1 L371.3 126.2 L371.6 126.2 L371.9 126.3 L372.2 126.3 L372.5 126.4 L372.8 126.5 L373.1 126.6 L373.4 126.8 L373.7 126.9 L374 127 L374.3 127.2 L374.6 127.4 L374.9 127.6 L375.2 128.1 L375.5 128.6 L375.8 129.1" fill="none" stroke="#000" stroke-width="1.2" stroke-linejoin="round" stroke-linecap="round"/>
<path d="M387.6 102.4 L387.9 100 L388.2 97.9 L388.5 95.9 L388.8 94 L389.1 92.2 L389.4 90.5 L389.7 88.8 L390 87.2 L390.4 85.6 L390.7 84.1 L391 82.6 L391.3 81.1 L391.6 79.6 L391.9 78.2" fill="none" stroke="#000" stroke-width="1.5" stroke-linejoin="round" stroke-linecap="round"/>
<path d="M389.2 93 L388.8 92.6 L389.4 92.3 L388.8 91.8 L389.5 91.6 L389 91.1 L389.8 90.9 L389 90.4 L390 90.2 L389.2 89.7 L389.9 89.4 L389.2 88.9 L390.1 88.7 L389.4 88.2 L390.2 88 L389.5 87.5 L390.6 87.4 L389.5 86.8 L390.7 86.6 L389.8 86.1 L390.8 85.9 L389.9 85.4 L390.8 85.2 L389.8 84.6 L391 84.5 L389.9 83.9 L391.3 83.8 L390.3 83.2 L391.3 83.1 L390.3 82.5 L391.8 82.4 L390.4 81.8 L391.7 81.6 L390.4 81 L391.9 80.9 L390.7 80.3 L392.7 80.4 L390.9 79.6 L392.8 79.7 L390.7 78.8 L392.7 78.9 L391 78.2 L392.5 78.1 L391.1 77.4 L392.8 77.4 L391.2 76.7 L392.7 76.7 L391.4 76 L393.5 76.1 L391.4 75.2 L393.8 75.4 L391.9 74.6 L393.9 74.7 L391.7 73.8 L394.2 74.1 L391.8 73.1 L394.8 73.5 L392.2 72.4 L394.7 72.7 L392.2 71.7 L394.2 71.8 L392.6 71 L394.5 71.2 L392.3 70.2 L395 70.5 L392.9 69.6 L394.6 69.7 L392.5 68.7 L395 69.1 L392.7 68 L395.9 68.6 L393.4 67.4 L395.5 67.7 L393.4 66.7 L395.7 67 L393.2 65.8 L395.9 66.3 L393.5 65.1 L396.6 65.8 L394.1 64.5 L397.3 65.4 L393.9 63.6 L397.3 64.7 L394.7 63 L397.2 63.9 L394.5 62.1 L397.8 63.4 L395.4 61.7 L398.2 62.8 L395.3 60.7 L398.5 62.2 L396.1 60.3 L398.5 61.4 L396.3 59.5 L399 60.9 L397 59.1 L399.4 60.3 L396.9 58 L399.5 59.6 L398 57.9 L400.3 59.3 L398 56.9 L401.2 59.1 L398.4 56.2 L401 58.1 L399.1 55.8 L401.4 57.4 L399.6 55.2 L402.1 57.2 L399.8 54.4 L402.9 56.9 L400.6 54 L403.8 57 L400.9 53.2 L403.6 55.7 L401.9 53.1 L404.7 56 L402.4 52.4 L404.9 55.2 L403 51.8 L405.6 55 L403.7 51.5 L405.9 54.2 L404.5 51.3 L406.6 54.1 L405.3 51.2 L407 53.3 L406 50.8 L408 53.8 L406.4 50 L408.5 53.2 L407.1 49.6 L409 52.8 L407.8 49.2 L409.9 53 L408.5 48.8 L410.1 51.7 L409.4 49.1 L410.7 51.5 L409.9 48.2 L411.8 52.2 L410.8 48.4 L412.5 52.4 L411.6 48.4 L413.1 51.9 L412.3 48.1 L413.7 51.6 L412.9 47.5 L414.2 50.7 L413.5 47 L415.1 51.4 L414.4 47.4 L415.5 50.1 L415 46.6 L416.5 51.1 L415.8 47.1 L417.1 50.6 L416.4 46.2 L417.7 49.8 L417.1 46.1 L418.4 49.9 L417.9 46 L419.3 50.4 L418.7 46.2 L419.9 49.8 L419.4 45.9 L420.7 50.1 L420.1 46 L421.3 49.5 L420.9 46.1 L422 49.5 L421.5 45.1 L422.7 49.4 L422.3 45.3 L423.3 48.7" fill="none" stroke="#000" stroke-width="1" stroke-linejoin="bevel" stroke-linecap="round"/>
<path d="M370.4 129.2 L370.7 129.3 L371 129.4 L371.4 129.5 L371.7 129.6 L372 129.7 L372.3 129.8 L372.6 129.9 L373 130 L373.3 130.1 L373.6 130.2 L373.9 130.3 L374.2 130.4 L374.5 130.5 L374.9 130.6 L375.2 130.7 L375.5 130.9 L375.8 131 L376.1 131.1 L376.5 131.3 L376.8 131.4 L377.1 131.6" fill="none" stroke="#000" stroke-width="1.2" stroke-linejoin="round" stroke-linecap="round"/>
<path d="M369.8 120.9 L370.3 120.4 L370.8 120.7 L371.3 120 L371.8 120.8 L372.3 120 L372.9 120.7 L373.4 120.2 L373.9 120.8 L374.4 120 L374.9 120.7 L375.4 120.1 L375.9 120.6 L376.4 120 L376.9 120.9 L377.4 119.9 L377.9 120.7 L378.4 120.4 L379 120.6 L379.5 120.2 L380 120.6 L380.5 120.2 L381 120.6 L381.5 120.1 L382 120.9 L382.5 120.2 L383 120.8 L383.5 119.9 L384 120.6 L384.5 120.1 L385.1 121 L385.6 120.2 L386.1 120.6 L386.6 120.1 L387.1 120.6 L387.6 120 L388.1 121 L388.6 120.1 L389.1 120.7 L389.6 120.3 L390.1 120.6 L390.7 120.2 L391.2 120.5 L391.7 120.3 L392.2 120.8 L392.7 120 L393.2 120.6 L393.7 120.1 L394.2 120.8 L394.7 120.2 L395.2 120.6 L395.7 119.9 L396.2 120.9 L396.8 120 L397.3 120.5 L397.8 119.9 L398.3 120.9 L398.8 119.9 L399.3 120.9 L399.8 119.9 L400.3 120.6 L400.8 120.2 L401.3 120.8 L401.8 120 L402.3 120.9 L402.9 119.9 L403.4 120.6 L403.9 120.3 L404.4 120.6 L404.9 120.3 L405.4 120.8 L405.9 120.3 L406.4 120.5 L406.9 120.3 L407.4 120.8 L407.9 120.1 L408.5 120.5 L409 120.1 L409.5 120.6 L410 119.9 L410.5 120.7 L411 120 L411.5 120.6 L412 119.9 L412.5 120.7 L413 120.3 L413.5 120.9 L414 120.3 L414.6 120.7 L415.1 119.9 L415.6 120.9 L416.1 120.3 L416.6 120.7 L417.1 119.9 L417.6 120.7 L418.1 119.9 L418.6 120.9 L419.1 120.3 L419.6 120.9 L420.1 120.3 L420.7 120.9 L421.2 120 L421.7 120.8 L422.2 120 L422.7 120.9 L423.2 120.3" fill="none" stroke="#000" stroke-width="1.2" stroke-linejoin="bevel" stroke-linecap="round"/>
<text x="425.6" y="40.9" font-family='"Liberation Serif", serif' font-size="11.2" font-weight="bold" font-style="normal" fill="#000" text-anchor="start" textLength="58" lengthAdjust="spacing">6313 pOri23</text>
<text x="425.6" y="53.3" font-family='"Liberation Serif", serif' font-size="11.2" font-weight="bold" font-style="normal" fill="#000" text-anchor="start" textLength="51.3" lengthAdjust="spacing">6313 &#916;<tspan font-style="italic">fbsA</tspan></text>
<text x="425.6" y="64.1" font-family='"Liberation Serif", serif' font-size="11.2" font-weight="bold" font-style="normal" fill="#000" text-anchor="start" textLength="53.8" lengthAdjust="spacing">pOri23<tspan font-style="italic">fbsA</tspan></text>
<text x="427.6" y="124.6" font-family='"Liberation Serif", serif' font-size="11.2" font-weight="bold" font-style="normal" fill="#000" text-anchor="start">6313 &#916;<tspan font-style="italic">fbsA</tspan> pOri23</text>
<line x1="365.4" y1="230.6" x2="365.4" y2="331.6" stroke="#3a3a3a" stroke-width="1.1"/>
<line x1="366" y1="343.5" x2="491.5" y2="343.5" stroke="#1a1a1a" stroke-width="1"/>
<text x="362.4" y="239.1" font-family='"Liberation Sans", sans-serif' font-size="8.5" font-weight="bold" font-style="normal" fill="#000" text-anchor="end">60</text>
<text x="362.4" y="256.3" font-family='"Liberation Sans", sans-serif' font-size="8.5" font-weight="bold" font-style="normal" fill="#000" text-anchor="end">50</text>
<text x="362.4" y="271.7" font-family='"Liberation Sans", sans-serif' font-size="8.5" font-weight="bold" font-style="normal" fill="#000" text-anchor="end">40</text>
<text x="362.4" y="290.3" font-family='"Liberation Sans", sans-serif' font-size="8.5" font-weight="bold" font-style="normal" fill="#000" text-anchor="end">30</text>
<text x="362.4" y="306.4" font-family='"Liberation Sans", sans-serif' font-size="8.5" font-weight="bold" font-style="normal" fill="#000" text-anchor="end">20</text>
<text x="362.4" y="323.3" font-family='"Liberation Sans", sans-serif' font-size="8.5" font-weight="bold" font-style="normal" fill="#000" text-anchor="end">10</text>
<text x="362.4" y="338.3" font-family='"Liberation Sans", sans-serif' font-size="8.5" font-weight="bold" font-style="normal" fill="#000" text-anchor="end">0</text>
<text x="373.8" y="356" font-family='"Liberation Sans", sans-serif' font-size="9.6" font-weight="normal" font-style="normal" fill="#000" text-anchor="middle" stroke="#000" stroke-width="0.2">1</text>
<text x="384.8" y="356" font-family='"Liberation Sans", sans-serif' font-size="9.6" font-weight="normal" font-style="normal" fill="#000" text-anchor="middle" stroke="#000" stroke-width="0.2">2</text>
<text x="396.3" y="356" font-family='"Liberation Sans", sans-serif' font-size="9.6" font-weight="normal" font-style="normal" fill="#000" text-anchor="middle" stroke="#000" stroke-width="0.2">3</text>
<text x="406.5" y="356" font-family='"Liberation Sans", sans-serif' font-size="9.6" font-weight="normal" font-style="normal" fill="#000" text-anchor="middle" stroke="#000" stroke-width="0.2">4</text>
<text x="417.7" y="356" font-family='"Liberation Sans", sans-serif' font-size="9.6" font-weight="normal" font-style="normal" fill="#000" text-anchor="middle" stroke="#000" stroke-width="0.2">5</text>
<text x="428.8" y="356" font-family='"Liberation Sans", sans-serif' font-size="9.6" font-weight="normal" font-style="normal" fill="#000" text-anchor="middle" stroke="#000" stroke-width="0.2">6</text>
<text x="440.2" y="356" font-family='"Liberation Sans", sans-serif' font-size="9.6" font-weight="normal" font-style="normal" fill="#000" text-anchor="middle" stroke="#000" stroke-width="0.2">7</text>
<text x="451.1" y="356" font-family='"Liberation Sans", sans-serif' font-size="9.6" font-weight="normal" font-style="normal" fill="#000" text-anchor="middle" stroke="#000" stroke-width="0.2">8</text>
<text x="462.2" y="356" font-family='"Liberation Sans", sans-serif' font-size="9.6" font-weight="normal" font-style="normal" fill="#000" text-anchor="middle" stroke="#000" stroke-width="0.2">9</text>
<text x="475" y="356" font-family='"Liberation Sans", sans-serif' font-size="9.6" font-weight="normal" font-style="normal" fill="#000" text-anchor="middle" stroke="#000" stroke-width="0.2">10</text>
<text x="487.3" y="356" font-family='"Liberation Sans", sans-serif' font-size="9.6" font-weight="normal" font-style="normal" fill="#000" text-anchor="middle" stroke="#000" stroke-width="0.2">11</text>
<text x="409.3" y="366.7" font-family='"Liberation Sans", sans-serif' font-size="9.6" font-weight="bold" font-style="normal" fill="#000" text-anchor="start">Time (min)</text>
<text transform="translate(333.5 329.2) rotate(-90)" font-family='"Liberation Sans", sans-serif' font-size="10.3" font-weight="bold" textLength="92.4" lengthAdjust="spacingAndGlyphs">Platelet Aggregation</text>
<text transform="translate(344.4 336.4) rotate(-90)" font-family='"Liberation Sans", sans-serif' font-size="10.3" font-weight="bold" textLength="102.4" lengthAdjust="spacingAndGlyphs">(% light transmission)</text>
<path d="M366 324.8 L366.3 324.9 L366.6 325 L366.9 325.1 L367.2 325.2 L367.5 325.3 L367.8 325.4 L368.1 325.5 L368.4 325.6 L368.7 325.7 L369 325.9 L369.3 326 L369.6 326.1 L369.9 326.3 L370.2 326.4 L370.5 326.6 L370.8 326.7 L371.1 326.9 L371.4 327 L371.7 327.2 L372 327.4 L372.3 327.6 L372.7 327.8 L373 328 L373.3 328.3 L373.6 328.5 L373.9 328.8 L374.2 329 L374.5 329.3 L374.8 329.6 L375.1 329.9 L375.4 330.2 L375.7 330.5 L376 330.9 L376.3 331.2 L376.6 331.6 L376.9 332 L377.2 332.4 L377.5 332.8 L377.8 333.3 L378.1 333.9 L378.4 334.5 L378.7 335.1 L379 335.8 L379.3 336.4 L379.6 337.1 L379.9 337.8 L380.2 338.4 L380.5 339 L380.8 339.7 L381.1 340.5 L381.4 341.2 L381.7 341.8 L382 342.4 L382.3 342.8 L382.6 343.1 L382.9 343.4 L383.2 343.5 L383.5 343.3 L383.8 342.9 L384.1 342.3 L384.4 341.7 L384.7 340.9 L385 339.8 L385.4 338.6 L385.7 337.3 L386 336 L386.3 334.7 L386.6 333.3 L386.9 331.8 L387.2 330.2 L387.5 328.6 L387.8 326.9 L388.1 325.2 L388.4 323.3 L388.7 321.5 L389 319.6 L389.3 317.8 L389.6 316.1 L389.9 314.3 L390.2 312.5 L390.5 310.7 L390.8 309 L391.1 307.1 L391.4 305.3 L391.7 303.5 L392 301.8 L392.3 300.1 L392.6 298.5 L392.9 296.9 L393.2 295.3 L393.5 293.8 L393.8 292.4 L394.1 291 L394.4 289.6 L394.7 288.3 L395 287 L395.3 285.7 L395.6 284.5 L395.9 283.3 L396.2 282.1 L396.5 280.9 L396.8 279.8 L397.1 278.7 L397.4 277.7 L397.7 276.7 L398 275.8 L398.4 274.8 L398.7 274 L399 273.1 L399.3 272.3 L399.6 271.6 L399.9 270.9 L400.2 270.2 L400.5 269.6 L400.8 269 L401.1 268.5 L401.4 267.9 L401.7 267.4 L402 266.9 L402.3 266.4 L402.6 265.9 L402.9 265.3 L403.2 264.7 L403.5 264.2 L403.8 263.6 L404.1 263.1 L404.4 262.7 L404.7 262.2 L405 261.9 L405.3 261.6 L405.6 261.3 L405.9 261.1 L406.2 260.8 L406.5 260.6 L406.8 260.4 L407.1 260.2 L407.4 260 L407.7 259.8 L408 259.6 L408.3 259.4 L408.6 259.2 L408.9 259.1 L409.2 258.9 L409.5 258.7 L409.8 258.6 L410.1 258.4 L410.4 258.3 L410.7 258.1 L411 258 L411.4 257.8 L411.7 257.7 L412 257.6 L412.3 257.4 L412.6 257.3 L412.9 257.2 L413.2 257 L413.5 256.9 L413.8 256.8 L414.1 256.7 L414.4 256.6 L414.7 256.4 L415 256.3 L415.3 256.2 L415.6 256.1 L415.9 255.9 L416.2 255.8 L416.5 255.7 L416.8 255.6 L417.1 255.5 L417.4 255.3 L417.7 255.2 L418 255.1 L418.3 255 L418.6 254.9 L418.9 254.8 L419.2 254.6 L419.5 254.5 L419.8 254.4 L420.1 254.3 L420.4 254.2 L420.7 254.1 L421 254 L421.3 253.9 L421.6 253.8 L421.9 253.7 L422.2 253.6 L422.5 253.5 L422.8 253.4 L423.1 253.2 L423.4 253.1 L423.7 253 L424 252.9 L424.4 252.8 L424.7 252.7 L425 252.6 L425.3 252.6 L425.6 252.5 L425.9 252.4 L426.2 252.3 L426.5 252.2 L426.8 252.1 L427.1 252.1 L427.4 252 L427.7 251.9 L428 251.8 L428.3 251.8 L428.6 251.7 L428.9 251.6 L429.2 251.6 L429.5 251.5 L429.8 251.4 L430.1 251.4 L430.4 251.3 L430.7 251.3 L431 251.2 L431.3 251.1 L431.6 251.1 L431.9 251 L432.2 251 L432.5 250.9 L432.8 250.8 L433.1 250.8 L433.4 250.7 L433.7 250.6 L434 250.6 L434.3 250.5 L434.6 250.4 L434.9 250.4 L435.2 250.3 L435.5 250.3 L435.8 250.2 L436.1 250.2 L436.4 250.1 L436.7 250.1 L437.1 250 L437.4 250 L437.7 250 L438 249.9 L438.3 249.9 L438.6 249.9 L438.9 249.8 L439.2 249.8 L439.5 249.8 L439.8 249.8 L440.1 249.7 L440.4 249.7 L440.7 249.7 L441 249.7 L441.3 249.7 L441.6 249.6 L441.9 249.6 L442.2 249.6 L442.5 249.6 L442.8 249.6 L443.1 249.6 L443.4 249.6" fill="none" stroke="#222" stroke-width="0.9" stroke-linejoin="round" stroke-linecap="round"/>
<path d="M366 324.8 L366.3 324.9 L366.6 325 L366.9 325.1 L367.2 325.2 L367.5 325.3 L367.8 325.4 L368.1 325.5 L368.4 325.6 L368.7 325.7 L369 325.9 L369.3 326 L369.6 326.1 L369.9 326.3 L370.2 326.4 L370.5 326.6 L370.8 326.7 L371.1 326.9 L371.4 327 L371.7 327.2 L372 327.4 L372.3 327.6 L372.7 327.8 L373 328 L373.3 328.3 L373.6 328.5 L373.9 328.8 L374.2 329 L374.5 329.3 L374.8 329.6 L375.1 329.9 L375.4 330.2 L375.7 330.5 L376 330.9 L376.3 331.2" fill="none" stroke="#000" stroke-width="1.6" stroke-linejoin="round" stroke-linecap="round"/>
<path d="M389.6 316.1 L389.9 314.3 L390.2 312.5 L390.5 310.7 L390.8 309 L391.1 307.1 L391.4 305.3 L391.7 303.5 L392 301.8 L392.3 300.1 L392.6 298.5 L392.9 296.9 L393.2 295.3 L393.5 293.8 L393.8 292.4 L394.1 291 L394.4 289.6 L394.7 288.3 L395 287 L395.3 285.7 L395.6 284.5 L395.9 283.3" fill="none" stroke="#000" stroke-width="1.5" stroke-linejoin="round" stroke-linecap="round"/>
<path d="M392.8 298.9 L392.3 298.4 L393 298.1 L392.4 297.6 L393.2 297.3 L392.6 296.8 L393.4 296.5 L392.7 296 L393.5 295.7 L392.8 295.2 L393.6 294.9 L393 294.4 L393.8 294.2 L393.2 293.6 L394.2 293.4 L393.2 292.8 L394.2 292.6 L393.4 292 L394.5 291.8 L393.6 291.2 L394.5 291 L393.7 290.4 L394.9 290.3 L393.9 289.6 L394.9 289.5 L393.9 288.8 L395.1 288.7 L394.3 288.1 L395.4 287.9 L394.4 287.3 L395.7 287.2 L394.5 286.5 L395.7 286.3 L394.8 285.7 L395.9 285.6 L394.8 284.9 L396.2 284.8 L395.1 284.1 L396.5 284 L395.1 283.3 L396.7 283.3 L395.4 282.5 L397.4 282.6 L395.4 281.7 L397 281.7 L395.9 281 L397.2 280.9 L396 280.2 L397.5 280.2 L395.9 279.3 L397.8 279.4 L396.4 278.6 L397.9 278.6 L396.4 277.7 L398.5 278 L396.5 276.9 L398.8 277.2 L397 276.2 L399 276.4 L396.9 275.3 L399 275.6 L397.1 274.6 L399.4 274.9 L397.4 273.8 L399.9 274.2 L397.6 273 L399.9 273.4 L397.8 272.2 L400.2 272.7 L398.5 271.6 L400.7 272 L398.5 270.6 L401.3 271.5 L398.8 269.9 L401.2 270.6 L399.3 269.2 L401.4 269.8 L399.7 268.4 L402.5 269.5 L399.6 267.4 L402.5 268.6 L399.8 266.6 L403.7 268.4 L400.3 265.9 L403.7 267.5 L400.6 265.2 L404.5 267 L401.1 264.6 L404.8 266.1 L401 263.7 L405 265.4 L401.9 263.2 L405.4 264.7 L402.1 262.3 L405.5 263.9 L402.2 261.2 L407.4 264.5 L402.6 260.1 L406.6 263.2 L403.5 259.4 L407.4 263.1 L404.5 259.1 L407.5 262.2 L405 258.2 L408.9 263 L405.7 257.5 L409 261.9 L406.7 257.3 L409.6 261.5 L407.5 257.1 L410.7 262.1 L408.2 256.5 L411.5 261.9 L408.3 255 L412.2 261.7 L409.3 254.9 L412.8 261.3 L410.3 254.8 L413.6 261.2 L411.2 254.7 L413.6 259.3 L411.8 254.1 L414.2 258.9 L412.4 253.2 L415.4 259.7 L413.1 252.9 L415.8 258.6 L413.9 252.7 L416.6 258.4 L414.5 252 L417.5 258.4 L415.2 251.6 L418.1 257.9 L416.5 252.5 L418.9 257.7 L417.1 251.7 L419.8 257.7 L418 251.8 L420.5 257.4 L418.6 251 L421.2 257 L419.3 250.5 L421.8 256.4 L420 250.2 L422.5 255.9 L420.8 249.9 L423.8 257.3 L421.9 250.5 L424.1 255.6 L422.6 250.1 L425.4 257.2 L423.1 248.8 L426.1 256.9 L424.2 249.4 L426.4 255.4 L425.1 249.3 L427.4 256.3 L425.8 248.7 L427.9 255.5 L426.4 247.5 L428.8 256 L427.4 248 L429.6 256 L428.2 247.5 L430.2 255 L429 247.2 L431 255 L430 248.1 L431.9 255.3 L430.7 247.6 L432.6 254.9 L431.5 247.5 L433.9 256.7 L432.2 247.2 L434.3 254.9 L432.8 246.2 L434.9 254 L433.6 245.9 L435.8 254.3 L434.8 247.1 L436.6 254.7 L435.5 246.2 L437.2 254.4 L436.5 245.8 L437.7 252.9 L437.4 246.6 L438.5 253.7 L438.2 245.9 L439.4 254.3 L439.1 246.5 L440.1 253.5 L439.9 245.7 L440.8 252.5 L440.7 245.2 L441.6 254.1 L441.6 244.7 L442.3 252.9 L442.5 244.8 L443 253.3 L443.4 246.3" fill="none" stroke="#000" stroke-width="0.9" stroke-linejoin="bevel" stroke-linecap="round"/>
<path d="M366.5 320.8 L366.9 320 L367.4 321.1 L367.9 320 L368.3 321.2 L368.8 320.1 L369.2 320.7 L369.7 319.9 L370.2 320.9 L370.6 319.7 L371.1 321 L371.5 319.6 L372 320.6 L372.4 319.6 L372.9 320.9 L373.3 319.5 L373.8 320.9 L374.2 319.8 L374.7 320.8 L375.1 319.8 L375.6 320.8 L376 319.5 L376.5 320.8 L376.9 319.5 L377.4 321.1 L377.8 319.6 L378.3 320.8 L378.8 319.8 L379.3 321.3 L379.7 319.5 L380.2 320.7 L380.6 319.4 L381.1 320.7 L381.5 319.2 L382 320.4 L382.4 319.7 L382.9 320.5 L383.3 319.6 L383.8 320.6 L384.2 319.3 L384.7 320.4 L385.1 319.4 L385.6 320.7 L386 319.1 L386.5 320.1 L386.9 319 L387.4 320.7 L387.9 319.6 L388.3 320.3 L388.8 319.2 L389.3 320.3 L389.7 319.3 L390.2 320 L390.6 319 L391.1 320.5 L391.5 319.2 L392 320 L392.4 319.3 L392.9 320.4 L393.3 319.4 L393.8 319.8 L394.2 319.4 L394.7 320.3 L395.1 319 L395.6 320 L396 319.1 L396.5 320.3 L396.9 319 L397.4 320.3 L397.8 318.9 L398.3 319.9 L398.8 318.8 L399.3 320.1 L399.7 318.7 L400.2 319.8 L400.6 318.8 L401.1 319.9 L401.5 318.8 L402 320.1 L402.4 318.8 L402.9 319.8 L403.3 318.8 L403.8 319.8 L404.2 318.6 L404.7 319.6 L405.1 318.7 L405.6 319.8 L406 318.9 L406.5 320 L406.9 318.6 L407.4 319.6 L407.9 318.6 L408.3 319.7 L408.8 318.4 L409.2 319.3 L409.7 318.7 L410.2 319.7 L410.6 318.9 L411.1 319.8 L411.5 318.6 L412 319.8 L412.4 318.5 L412.9 319.2 L413.3 318.5 L413.8 319.5 L414.2 318.6 L414.7 319.2 L415.1 318.1 L415.6 319.5 L416 318.4 L416.5 319.4 L417 318.6 L417.4 319.5 L417.8 318 L418.4 319.5 L418.8 318.3 L419.2 318.9 L419.7 318.3 L420.2 319.1 L420.6 318.1 L421.1 319.1 L421.5 318.2 L422 318.9 L422.4 318.4 L422.9 318.9 L423.3 317.9 L423.8 318.9 L424.2 318.3 L424.7 319.2 L425.1 318.1 L425.6 319.2 L426 317.8 L426.5 319 L426.9 317.9 L427.4 319.2 L427.9 318.1 L428.3 319.1 L428.8 317.9 L429.3 318.9 L429.7 318 L430.2 319 L430.6 317.8 L431.1 319.1 L431.5 318.1 L432 318.9 L432.4 317.6 L432.9 319 L433.3 317.9 L433.8 318.7 L434.2 317.5 L434.7 318.5 L435.1 317.6 L435.6 318.5 L436 317.5 L436.5 318.4 L436.9 317.6 L437.4 318.8 L437.8 317.3 L438.4 318.9 L438.8 317.8 L439.3 318.6 L439.7 317.7 L440.2 318.8 L440.6 317.4 L441.1 318.9 L441.5 317.3 L442 318.4 L442.4 317.7 L442.9 318.6 L443.3 317.5 L443.8 318.5 L444.2 317.6 L444.7 318.5 L445.1 317.3 L445.6 318.3" fill="none" stroke="#000" stroke-width="1.6" stroke-linejoin="bevel" stroke-linecap="round"/>
<text x="449.2" y="248.4" font-family='"Liberation Serif", serif' font-size="12.6" font-weight="bold" font-style="italic" fill="#000" text-anchor="start" textLength="41.3" lengthAdjust="spacing">L. lactis</text>
<text x="449.2" y="261.2" font-family='"Liberation Serif", serif' font-size="12.6" font-weight="bold" font-style="normal" fill="#000" text-anchor="start" textLength="62" lengthAdjust="spacing">pOri23<tspan font-style="italic">fbsA</tspan></text>
<text x="452.4" y="317.3" font-family='"Liberation Serif", serif' font-size="12.6" font-weight="bold" font-style="italic" fill="#000" text-anchor="start" textLength="41" lengthAdjust="spacing">L. lactis</text>
<text x="452.4" y="329.4" font-family='"Liberation Serif", serif' font-size="12.6" font-weight="bold" font-style="normal" fill="#000" text-anchor="start" textLength="38.4" lengthAdjust="spacing">pOri23</text>
</svg>
</body></html>
